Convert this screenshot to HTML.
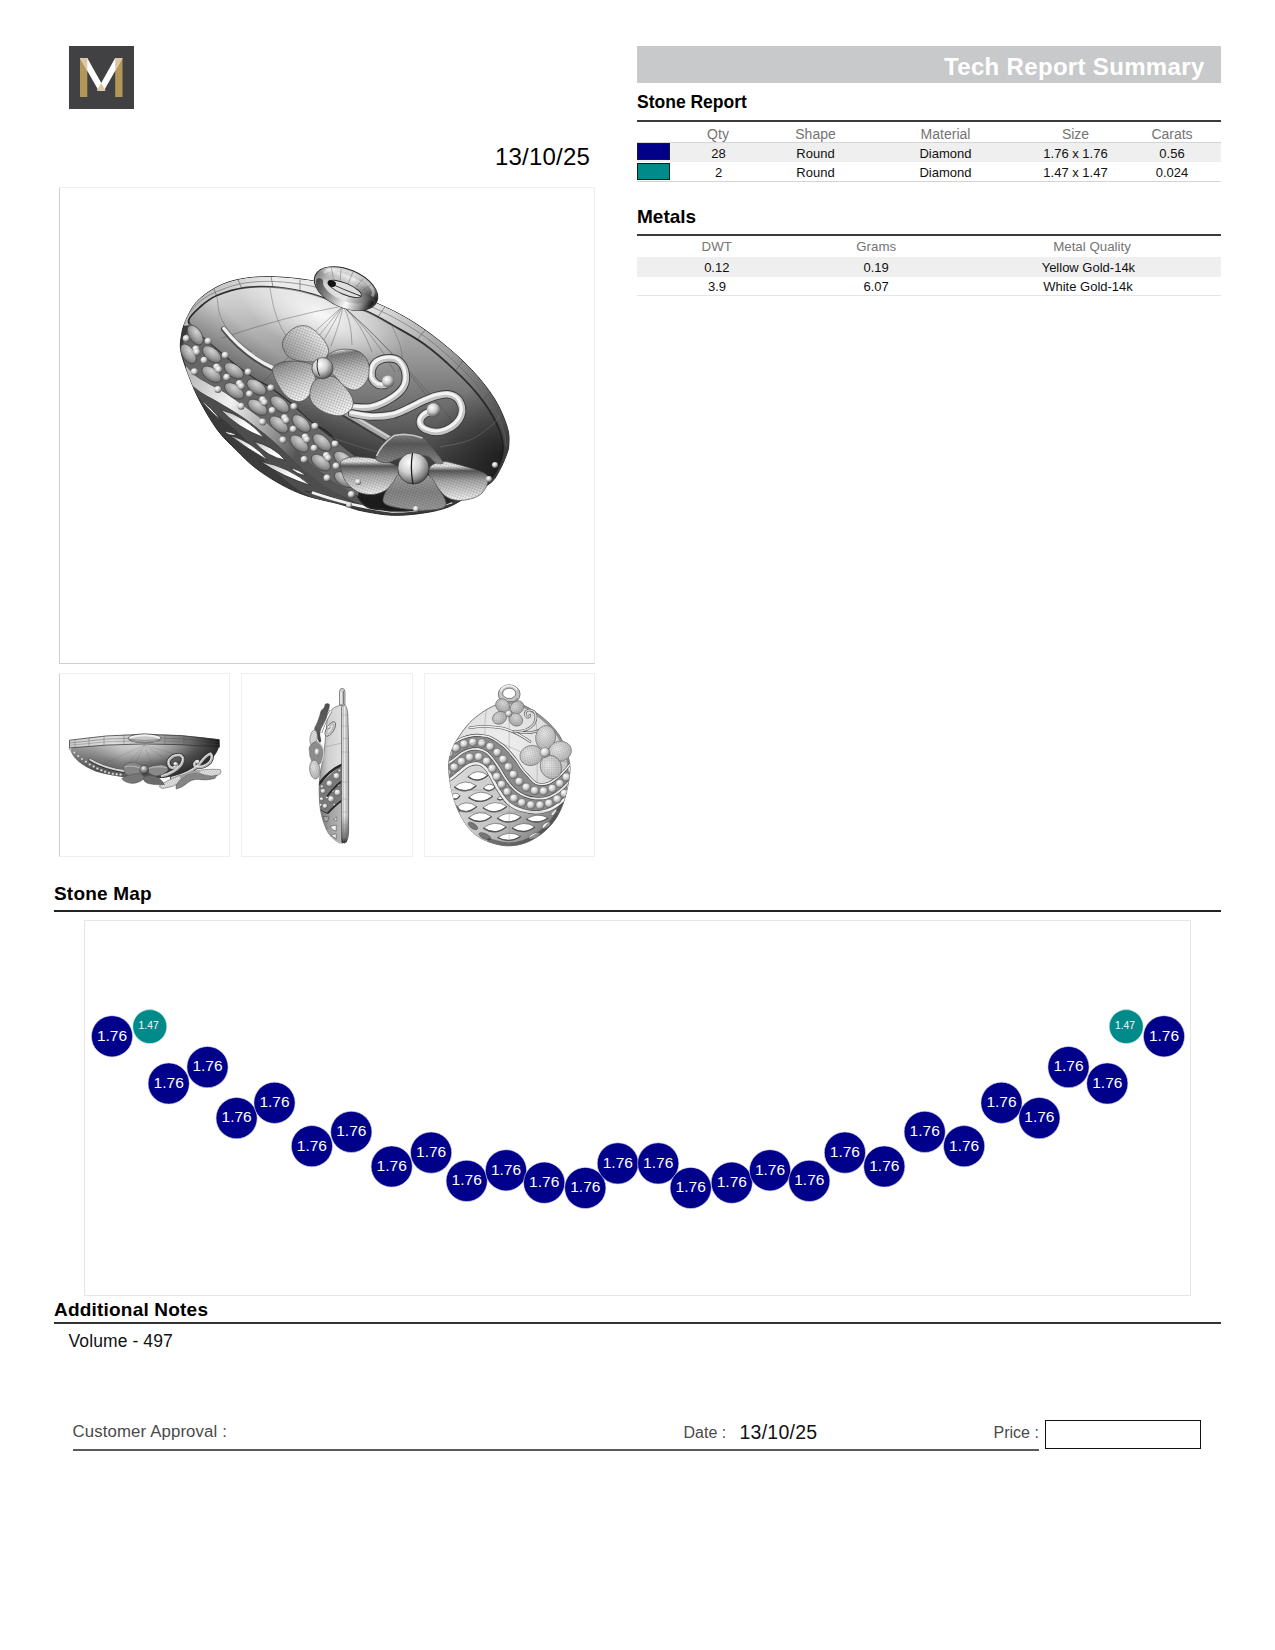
<!DOCTYPE html>
<html lang="en">
<head>
<meta charset="utf-8">
<title>Tech Report Summary</title>
<style>
html,body{margin:0;padding:0;background:#fff;}
body{width:1275px;height:1650px;position:relative;overflow:hidden;font-family:"Liberation Sans",sans-serif;color:#000;}
.abs{position:absolute;}
.t{position:absolute;white-space:nowrap;line-height:1;}
.c{transform:translateX(-50%);}
.b{font-weight:bold;}
.hr{position:absolute;height:2px;background:#3a3a3a;}
.lr{position:absolute;height:1px;background:#d4d4d4;}
#titlebar{left:637px;top:46px;width:584px;height:37px;background:#c8c9ca;}
#title{left:944px;top:54.5px;font-size:24px;font-weight:bold;color:#fff;letter-spacing:.33px;}
.rowbg{position:absolute;left:637px;width:584px;background:#efefef;}
.sw{position:absolute;left:637px;width:31px;height:15px;border:1px solid #1a1a1a;}
.cell{font-size:13px;color:#111;}
.hd{font-size:14px;color:#747474;}
.frame{position:absolute;box-sizing:border-box;border:1px solid #efefef;background:#fff;}
.nv{fill:#00008b;stroke:#d8d8e8;stroke-width:.6;}
.tl{fill:#008b8b;stroke:#d8e8e8;stroke-width:.6;}
.n1{font-family:"Liberation Sans",sans-serif;font-size:15.5px;fill:#fff;text-anchor:middle;}
.n2{font-family:"Liberation Sans",sans-serif;font-size:10.3px;fill:#fff;text-anchor:middle;}
</style>
</head>
<body>
<!-- logo -->
<svg class="abs" id="logo" style="left:69px;top:46px" width="65" height="63" viewBox="0 0 65 63">
<rect width="65" height="63" fill="#414042"/>
<rect x="11" y="12" width="7.3" height="39" fill="#b39759"/>
<rect x="46.2" y="12" width="7.3" height="39" fill="#b39759"/>
<polygon points="11,12 18.3,12 36.5,44.5 29.5,44.5" fill="#fff"/>
<polygon points="53.5,12 46.2,12 28,44.5 35,44.5" fill="#fff"/>
<polygon points="11,12 18.3,12 18.3,25" fill="#d9c7a8"/>
<polygon points="53.5,12 46.2,12 46.2,25" fill="#d9c7a8"/>
<polygon points="32.2,37 36.5,44.5 28,44.5" fill="#d9c7a8"/>
</svg>
<div class="t" id="date1" style="left:495px;top:144.8px;font-size:24px;letter-spacing:.2px;">13/10/25</div>

<div class="abs" id="titlebar"></div>
<div class="t" id="title">Tech Report Summary</div>

<!-- Stone report -->
<div class="t b" id="h-stone" style="left:637px;top:94px;font-size:17.5px;">Stone Report</div>
<div class="hr" style="left:637px;top:120px;width:584px;"></div>
<div class="t hd c" style="left:718px;top:126.5px;">Qty</div>
<div class="t hd c" style="left:815.5px;top:126.5px;">Shape</div>
<div class="t hd c" style="left:945.5px;top:126.5px;">Material</div>
<div class="t hd c" style="left:1075.5px;top:126.5px;">Size</div>
<div class="t hd c" style="left:1172px;top:126.5px;">Carats</div>
<div class="lr" style="left:637px;top:142px;width:584px;"></div>
<div class="rowbg" style="top:143px;height:19px;"></div>
<div class="sw" style="top:143px;background:#00008b;"></div>
<div class="t cell c" style="left:718.5px;top:147px;">28</div>
<div class="t cell c" style="left:815.5px;top:147px;">Round</div>
<div class="t cell c" style="left:945.5px;top:147px;">Diamond</div>
<div class="t cell c" style="left:1075.5px;top:147px;">1.76 x 1.76</div>
<div class="t cell c" style="left:1172px;top:147px;">0.56</div>
<div class="sw" style="top:162.5px;background:#008b8b;"></div>
<div class="t cell c" style="left:718.5px;top:165.5px;">2</div>
<div class="t cell c" style="left:815.5px;top:165.5px;">Round</div>
<div class="t cell c" style="left:945.5px;top:165.5px;">Diamond</div>
<div class="t cell c" style="left:1075.5px;top:165.5px;">1.47 x 1.47</div>
<div class="t cell c" style="left:1172px;top:165.5px;">0.024</div>
<div class="lr" style="left:637px;top:181px;width:584px;"></div>

<!-- Metals -->
<div class="t b" id="h-metals" style="left:637px;top:207.4px;font-size:19px;">Metals</div>
<div class="hr" style="left:637px;top:234px;width:584px;"></div>
<div class="t hd c" style="left:716.7px;top:240px;font-size:13.3px;">DWT</div>
<div class="t hd c" style="left:876.2px;top:240px;font-size:13.3px;">Grams</div>
<div class="t hd c" style="left:1092px;top:240px;font-size:13.3px;">Metal Quality</div>
<div class="rowbg" style="top:257px;height:19.5px;"></div>
<div class="t cell c" style="left:716.8px;top:261px;">0.12</div>
<div class="t cell c" style="left:876.1px;top:261px;">0.19</div>
<div class="t cell c" style="left:1088.4px;top:261px;">Yellow Gold-14k</div>
<div class="t cell c" style="left:717px;top:280px;">3.9</div>
<div class="t cell c" style="left:876.1px;top:280px;">6.07</div>
<div class="t cell c" style="left:1088px;top:280px;">White Gold-14k</div>
<div class="lr" style="left:637px;top:295px;width:584px;background:#e4e4e4;"></div>

<!-- main picture -->
<div class="frame" id="mainframe" style="left:59px;top:187px;width:536px;height:477px;border-left-color:#cfcfcf;border-bottom-color:#cfcfcf;"></div>
<div class="frame" id="th1" style="left:59px;top:673px;width:171px;height:184px;border-left-color:#cfcfcf;"></div>
<div class="frame" id="th2" style="left:241px;top:673px;width:172px;height:184px;"></div>
<div class="frame" id="th3" style="left:424px;top:673px;width:171px;height:184px;"></div>

<svg class="abs" id="mainpic" style="left:60px;top:188px" width="534" height="475" viewBox="60 188 534 475">
<defs>
<linearGradient id="gDome" gradientUnits="userSpaceOnUse" x1="345" y1="268" x2="353" y2="500">
<stop offset="0" stop-color="#e6e6e6"/><stop offset=".15" stop-color="#c8c8c8"/><stop offset=".35" stop-color="#a0a0a0"/><stop offset=".55" stop-color="#787878"/><stop offset=".75" stop-color="#505050"/><stop offset="1" stop-color="#262626"/>
</linearGradient>
<radialGradient id="gDk" gradientUnits="userSpaceOnUse" cx="505" cy="455" r="75">
<stop offset="0" stop-color="#000" stop-opacity=".55"/><stop offset="1" stop-color="#000" stop-opacity="0"/>
</radialGradient>
<linearGradient id="gDk2" gradientUnits="userSpaceOnUse" x1="262" y1="340" x2="236" y2="372">
<stop offset="0" stop-color="#000" stop-opacity="0"/><stop offset="1" stop-color="#000" stop-opacity=".28"/>
</linearGradient>
<radialGradient id="gHi" gradientUnits="userSpaceOnUse" cx="0" cy="0" r="90" gradientTransform="translate(322 316) rotate(24) scale(1 .45)">
<stop offset="0" stop-color="#fff" stop-opacity=".9"/><stop offset="1" stop-color="#fff" stop-opacity="0"/>
</radialGradient>
<linearGradient id="gRim" gradientUnits="userSpaceOnUse" x1="190" y1="300" x2="510" y2="440">
<stop offset="0" stop-color="#b5b5b5"/><stop offset=".2" stop-color="#ededed"/><stop offset=".5" stop-color="#dedede"/><stop offset=".75" stop-color="#9a9a9a"/><stop offset="1" stop-color="#3c3c3c"/>
</linearGradient>
<radialGradient id="gBead" cx=".38" cy=".32" r=".75">
<stop offset="0" stop-color="#fff"/><stop offset=".45" stop-color="#d0d0d0"/><stop offset=".8" stop-color="#7a7a7a"/><stop offset="1" stop-color="#3a3a3a"/>
</radialGradient>
<radialGradient id="gGem" cx=".4" cy=".3" r=".8">
<stop offset="0" stop-color="#d2d2d2"/><stop offset=".55" stop-color="#9c9c9c"/><stop offset="1" stop-color="#5a5a5a"/>
</radialGradient>
<radialGradient id="gPet" cx=".4" cy=".35" r=".8">
<stop offset="0" stop-color="#ececec"/><stop offset=".6" stop-color="#c2c2c2"/><stop offset="1" stop-color="#727272"/>
</radialGradient>
<linearGradient id="gPet2" x1="0" y1="0" x2="0" y2="1">
<stop offset="0" stop-color="#6a6a6a"/><stop offset=".3" stop-color="#b5b5b5"/><stop offset="1" stop-color="#efefef"/>
</linearGradient>
<linearGradient id="gPet3" x1="0" y1="0" x2="0" y2="1">
<stop offset="0" stop-color="#777"/><stop offset=".5" stop-color="#a8a8a8"/><stop offset="1" stop-color="#d8d8d8"/>
</linearGradient>
<linearGradient id="gRing" gradientUnits="userSpaceOnUse" x1="320" y1="270" x2="375" y2="310">
<stop offset="0" stop-color="#c9c9c9"/><stop offset=".35" stop-color="#f4f4f4"/><stop offset=".7" stop-color="#bdbdbd"/><stop offset="1" stop-color="#555"/>
</linearGradient>
<linearGradient id="gF1L" gradientUnits="userSpaceOnUse" x1="285" y1="360" x2="300" y2="402">
<stop offset="0" stop-color="#6e6e6e"/><stop offset=".12" stop-color="#9a9a9a"/><stop offset=".6" stop-color="#d6d6d6"/><stop offset="1" stop-color="#fdfdfd"/>
</linearGradient>
<linearGradient id="gF1B" gradientUnits="userSpaceOnUse" x1="322" y1="378" x2="340" y2="416">
<stop offset="0" stop-color="#aaaaaa"/><stop offset=".5" stop-color="#d8d8d8"/><stop offset="1" stop-color="#fcfcfc"/>
</linearGradient>
<linearGradient id="gF1R" gradientUnits="userSpaceOnUse" x1="345" y1="349" x2="352" y2="390">
<stop offset="0" stop-color="#eeeeee"/><stop offset=".1" stop-color="#7c7c7c"/><stop offset=".5" stop-color="#c2c2c2"/><stop offset="1" stop-color="#f6f6f6"/>
</linearGradient>
<linearGradient id="gF1T" gradientUnits="userSpaceOnUse" x1="290" y1="358" x2="320" y2="330">
<stop offset="0" stop-color="#9e9e9e"/><stop offset=".6" stop-color="#d2d2d2"/><stop offset="1" stop-color="#f9f9f9"/>
</linearGradient>
<linearGradient id="gF2S" x1="0" y1="0" x2="0" y2="1">
<stop offset="0" stop-color="#dddddd"/><stop offset=".12" stop-color="#eaeaea"/><stop offset=".24" stop-color="#565656"/><stop offset=".5" stop-color="#aaaaaa"/><stop offset="1" stop-color="#f7f7f7"/>
</linearGradient>
<linearGradient id="gF2B" x1="0" y1="0" x2="0" y2="1">
<stop offset="0" stop-color="#a2a2a2"/><stop offset=".5" stop-color="#858585"/><stop offset="1" stop-color="#9c9c9c"/>
</linearGradient>
<linearGradient id="gF2T" x1="0" y1="0" x2="0" y2="1">
<stop offset="0" stop-color="#8a8a8a"/><stop offset=".35" stop-color="#5a5a5a"/><stop offset="1" stop-color="#8c8c8c"/>
</linearGradient>
<linearGradient id="gRingA" gradientUnits="userSpaceOnUse" x1="-34" y1="0" x2="34" y2="0">
<stop offset="0" stop-color="#8c8c8c"/><stop offset=".18" stop-color="#d6d6d6"/><stop offset=".55" stop-color="#e6e6e6"/><stop offset=".8" stop-color="#7a7a7a"/><stop offset="1" stop-color="#1e1e1e"/>
</linearGradient>
<linearGradient id="gRingB" gradientUnits="userSpaceOnUse" x1="0" y1="-19" x2="0" y2="19">
<stop offset="0" stop-color="#000" stop-opacity=".25"/><stop offset=".2" stop-color="#fff" stop-opacity=".3"/><stop offset=".45" stop-color="#000" stop-opacity=".15"/><stop offset=".75" stop-color="#fff" stop-opacity="0"/><stop offset="1" stop-color="#000" stop-opacity=".5"/>
</linearGradient>
<linearGradient id="gRingC" gradientUnits="userSpaceOnUse" x1="-30" y1="0" x2="30" y2="0">
<stop offset="0" stop-color="#444"/><stop offset=".3" stop-color="#9a9a9a"/><stop offset=".6" stop-color="#fbfbfb"/><stop offset=".82" stop-color="#999"/><stop offset="1" stop-color="#1a1a1a"/>
</linearGradient>
<linearGradient id="gHole" x1="0" y1="0" x2="1" y2="1">
<stop offset="0" stop-color="#bbb"/><stop offset=".6" stop-color="#fff"/><stop offset="1" stop-color="#fff"/>
</linearGradient>
<linearGradient id="gStrip" gradientUnits="userSpaceOnUse" x1="190" y1="380" x2="300" y2="450">
<stop offset="0" stop-color="#bdbdbd"/><stop offset=".35" stop-color="#f2f2f2"/><stop offset=".8" stop-color="#8a8a8a"/><stop offset="1" stop-color="#555"/>
</linearGradient>
<pattern id="mesh" width="2.7" height="2.7" patternUnits="userSpaceOnUse" patternTransform="rotate(20)">
<path d="M0 0H2.7M0 0V2.7" stroke="#3c3c3c" stroke-width=".55" fill="none"/>
</pattern>
<clipPath id="clipSil"><path d="M185.7 320.6C188.2 315.1 191.5 307.4 196.7 301.8C201.9 296.2 209.7 290.7 217 286.9C224.3 283.1 231.4 280.7 240.6 279C249.8 277.3 260.2 276.4 272 276.7C283.8 277 299 278.4 311.2 280.6C323.4 282.8 334 286.2 345 290C356 293.8 366.4 298.5 377 303.3C387.6 308.1 397.9 312.7 408.4 319C418.9 325.3 429.3 332.6 439.8 341C450.3 349.4 462.1 359.5 471.2 369.2C480.3 378.9 488.7 389.3 494.7 399C500.7 408.7 504.9 419.6 507.3 427.3C509.7 435 509 440.2 508.8 445C508.6 449.8 507.6 451.7 506 456C504.4 460.3 501.9 466.2 499.4 470.6C496.9 475 495.7 478.7 491 482.6C486.3 486.5 478.2 490.1 471.2 494.1C464.2 498.1 457 503.6 449.2 506.7C441.4 509.8 433.5 511.5 424.1 512.9C414.7 514.3 403.1 515.6 392.7 515.3C382.2 514.9 370.2 512.6 361.4 510.8C352.6 509 349.3 506.8 340 504.2C330.7 501.6 315.4 498.8 305.5 495.4C295.6 492 288.8 488.7 280.4 484.1C272 479.5 262.6 473.4 255.3 467.8C248 462.2 242.8 456.6 236.5 450.3C230.2 444 223.7 438.4 217.6 430.2C211.5 422 204.5 409.7 200 401.3C195.5 392.9 193.6 388.2 190.4 380C187.2 371.8 182.5 359.5 181 352C179.5 344.5 180.7 340.2 181.5 335C182.3 329.8 183.2 326.1 185.7 320.6Z"/></clipPath>
</defs>
<path d="M185.7 320.6C188.2 315.1 191.5 307.4 196.7 301.8C201.9 296.2 209.7 290.7 217 286.9C224.3 283.1 231.4 280.7 240.6 279C249.8 277.3 260.2 276.4 272 276.7C283.8 277 299 278.4 311.2 280.6C323.4 282.8 334 286.2 345 290C356 293.8 366.4 298.5 377 303.3C387.6 308.1 397.9 312.7 408.4 319C418.9 325.3 429.3 332.6 439.8 341C450.3 349.4 462.1 359.5 471.2 369.2C480.3 378.9 488.7 389.3 494.7 399C500.7 408.7 504.9 419.6 507.3 427.3C509.7 435 509 440.2 508.8 445C508.6 449.8 507.6 451.7 506 456C504.4 460.3 501.9 466.2 499.4 470.6C496.9 475 495.7 478.7 491 482.6C486.3 486.5 478.2 490.1 471.2 494.1C464.2 498.1 457 503.6 449.2 506.7C441.4 509.8 433.5 511.5 424.1 512.9C414.7 514.3 403.1 515.6 392.7 515.3C382.2 514.9 370.2 512.6 361.4 510.8C352.6 509 349.3 506.8 340 504.2C330.7 501.6 315.4 498.8 305.5 495.4C295.6 492 288.8 488.7 280.4 484.1C272 479.5 262.6 473.4 255.3 467.8C248 462.2 242.8 456.6 236.5 450.3C230.2 444 223.7 438.4 217.6 430.2C211.5 422 204.5 409.7 200 401.3C195.5 392.9 193.6 388.2 190.4 380C187.2 371.8 182.5 359.5 181 352C179.5 344.5 180.7 340.2 181.5 335C182.3 329.8 183.2 326.1 185.7 320.6Z" fill="#3b3b3b" stroke="#2a2a2a" stroke-width="1"/>
<g clip-path="url(#clipSil)">
<path d="M183 325C179.1 322 191 308.2 196.7 301.8C202.4 295.4 209.7 290.7 217 286.9C224.3 283.1 231.4 280.7 240.6 279C249.8 277.3 260.2 276.4 272 276.7C283.8 277 299 278.4 311.2 280.6C323.4 282.8 334 286.2 345 290C356 293.8 366.4 298.5 377 303.3C387.6 308.1 397.9 312.7 408.4 319C418.9 325.3 429.3 332.6 439.8 341C450.3 349.4 462.1 359.5 471.2 369.2C480.3 378.9 488.7 389.3 494.7 399C500.7 408.7 504.8 419.6 507.3 427.3C509.8 435 509.7 439.9 509.5 445C509.3 450.1 508.2 453.8 506 458C503.8 462.2 502 473 496 470C490 467 486 455 470 440C454 425 428.3 398.3 400 380C371.7 361.7 330 340 300 330C270 320 239.5 320.8 220 320C200.5 319.2 186.9 328 183 325Z" fill="url(#gRim)"/>
<path d="M214 289L217 297" stroke="#555" stroke-width=".6"/>
<path d="M238 280L242 289" stroke="#555" stroke-width=".6"/>
<path d="M271 276.5L273 287" stroke="#555" stroke-width=".6"/>
<path d="M300 279L300 291" stroke="#555" stroke-width=".6"/>
<path d="M385 306.5L378 317" stroke="#555" stroke-width=".6"/>
<path d="M425 330L417 340" stroke="#555" stroke-width=".6"/>
<path d="M463 361L455 371" stroke="#555" stroke-width=".6"/>
<path d="M490 392L482 401" stroke="#555" stroke-width=".6"/>
<path d="M505 421L497 428" stroke="#555" stroke-width=".6"/>
<path d="M188 314C190.5 311.5 197.3 303.1 203 299C208.7 294.9 215 292.2 222 289.5C229 286.8 236.2 284.3 245 283C253.8 281.7 264 281 275 281.5C286 282 299.3 283.5 311 286C322.7 288.5 334.8 293 345 296.5C355.2 300 362.7 302.8 372 307C381.3 311.2 391 315.7 401 321.5C411 327.3 421.7 333.9 432 342C442.3 350.1 453.8 360.8 463 370C472.2 379.2 480.6 388.5 487 397.5C493.4 406.5 498.2 415.8 501.5 424C504.8 432.2 505.7 443.2 506.5 447" fill="none" stroke="#666" stroke-width=".6"/>
<path d="M186 366C186.7 364.4 191.4 372.6 195 375.5C198.6 378.4 202.6 380.4 207.6 383.3C212.6 386.2 218.6 388.8 224.9 392.7C231.2 396.6 238.8 402.2 245.3 406.9C251.8 411.6 257.8 416 264.1 421C270.4 426 277.2 431.5 283 436.7C288.8 441.9 293.4 447.1 298.6 452.2C303.8 457.2 308.6 462 314.3 467C320.1 472 325.8 477.2 333.1 482C340.4 486.8 352.7 492 358.2 496C363.7 500 370 506.7 366 506C362 505.3 343.7 497.3 334 492C324.3 486.7 315.3 479.8 308 474C300.7 468.2 295.8 462.5 290 457C284.2 451.5 278.7 446 273 441C267.3 436 261.8 431.5 256 427C250.2 422.5 244.2 418.1 238 414C231.8 409.9 224.8 405.9 219 402.5C213.2 399.1 207.7 396.4 203 393.5C198.3 390.6 193.8 389.6 191 385C188.2 380.4 185.3 367.6 186 366Z" fill="url(#gStrip)"/>
<path d="M191 385C192.5 384.9 198.3 390.6 203 393.5C207.7 396.4 213.2 399.1 219 402.5C224.8 405.9 231.8 409.9 238 414C244.2 418.1 250.2 422.5 256 427C261.8 431.5 267.3 436 273 441C278.7 446 284.2 451.5 290 457C295.8 462.5 300.7 468.2 308 474C315.3 479.8 326.7 487.2 334 492C341.3 496.8 352.7 501.2 352 503C351.3 504.8 337.8 504.5 330 503C322.2 501.5 312.8 498.2 305 494C297.2 489.8 290.2 484 283 478C275.8 472 268.7 464.8 262 458C255.3 451.2 249.3 443.3 243 437C236.7 430.7 230 425.2 224 420C218 414.8 212 410.3 207 406C202 401.7 196.7 397.5 194 394C191.3 390.5 189.5 385.1 191 385Z" fill="#4d4d4d"/>
<path d="M198.8 398.8Q209.7 410.5 221.4 421.4Q212.4 407.8 198.8 398.8Z" fill="url(#gHole)" stroke="#2d2d2d" stroke-width=".8"/>
<path d="M220.2 409.5Q238.9 428.6 264.1 437.7Q246.7 416.5 220.2 409.5Z" fill="url(#gHole)" stroke="#2d2d2d" stroke-width=".8"/>
<path d="M223.9 431Q229.3 437 237 434.5Q230.6 432.4 223.9 431Z" fill="url(#gHole)" stroke="#2d2d2d" stroke-width=".8"/>
<path d="M229.6 435.2Q247.8 449.1 267.8 460.3Q252.7 441.7 229.6 435.2Z" fill="url(#gHole)" stroke="#2d2d2d" stroke-width=".8"/>
<path d="M254 441.5Q266.4 456.4 285.4 460.3Q272.8 445.8 254 441.5Z" fill="url(#gHole)" stroke="#2d2d2d" stroke-width=".8"/>
<path d="M260.3 461.6Q283.7 477.1 310.5 485.4Q288.7 466.6 260.3 461.6Z" fill="url(#gHole)" stroke="#2d2d2d" stroke-width=".8"/>
<path d="M290.4 467.8Q296.5 474.5 305.5 475.4Q299 469.5 290.4 467.8Z" fill="url(#gHole)" stroke="#2d2d2d" stroke-width=".8"/>
<path d="M305.5 491.2Q325.1 497.2 345 502.5Q326.2 493.4 305.5 491.2Z" fill="url(#gHole)" stroke="#2d2d2d" stroke-width=".8"/>
<path d="M312 492.5Q350 506 392 511.5Q425 511.5 452 502" fill="none" stroke="#f2f2f2" stroke-width="2.6"/>
<path d="M188.5 321C188.8 316.6 195.2 311.2 200 307C204.8 302.8 209.4 298.7 217 295.5C224.6 292.3 234.8 288.9 245.3 287.6C255.8 286.3 268.8 286.6 279.8 287.6C290.8 288.7 300.8 291 311.2 293.9C321.6 296.8 333.4 302 342.5 304.9C351.6 307.8 357.6 307.8 366 311.2C374.4 314.6 383 319.8 392.7 325.3C402.4 330.8 413.6 336.5 424.1 344.1C434.6 351.7 446.4 362.2 455.5 370.8C464.6 379.4 472.2 387.3 479 395.9C485.8 404.5 492.2 414 496.3 422.5C500.4 431 503.1 439.8 503.5 447C503.9 454.2 501.4 460.3 499 466C496.6 471.7 494.2 476.5 489 481C483.8 485.5 475.3 489.2 468 493C460.7 496.8 453.8 501.2 445 504C436.2 506.8 425 509 415 510C405 511 394.2 511.7 385 510C375.8 508.3 368.3 511.5 360 500C351.7 488.5 343.1 453.9 335 441C326.9 428.1 318.7 428.8 311.2 422.5C303.7 416.2 296.8 408.8 290 403C283.2 397.2 276.8 392.3 270.4 388C264 383.7 257.9 381.2 251.6 377C245.3 372.8 239 367.8 232.7 362.9C226.4 357.9 219.7 352.3 213.9 347.3C208.2 342.3 202.4 337.5 198.2 333.1C194 328.7 188.2 325.4 188.5 321Z" fill="url(#gDome)" stroke="#2e2e2e" stroke-width="1.8"/>
<path d="M188.5 321C188.8 316.6 195.2 311.2 200 307C204.8 302.8 209.4 298.7 217 295.5C224.6 292.3 234.8 288.9 245.3 287.6C255.8 286.3 268.8 286.6 279.8 287.6C290.8 288.7 300.8 291 311.2 293.9C321.6 296.8 333.4 302 342.5 304.9C351.6 307.8 357.6 307.8 366 311.2C374.4 314.6 383 319.8 392.7 325.3C402.4 330.8 413.6 336.5 424.1 344.1C434.6 351.7 446.4 362.2 455.5 370.8C464.6 379.4 472.2 387.3 479 395.9C485.8 404.5 492.2 414 496.3 422.5C500.4 431 503.1 439.8 503.5 447C503.9 454.2 501.4 460.3 499 466C496.6 471.7 494.2 476.5 489 481C483.8 485.5 475.3 489.2 468 493C460.7 496.8 453.8 501.2 445 504C436.2 506.8 425 509 415 510C405 511 394.2 511.7 385 510C375.8 508.3 368.3 511.5 360 500C351.7 488.5 343.1 453.9 335 441C326.9 428.1 318.7 428.8 311.2 422.5C303.7 416.2 296.8 408.8 290 403C283.2 397.2 276.8 392.3 270.4 388C264 383.7 257.9 381.2 251.6 377C245.3 372.8 239 367.8 232.7 362.9C226.4 357.9 219.7 352.3 213.9 347.3C208.2 342.3 202.4 337.5 198.2 333.1C194 328.7 188.2 325.4 188.5 321Z" fill="url(#gDk)"/>
<path d="M188.5 321C188.8 316.6 195.2 311.2 200 307C204.8 302.8 209.4 298.7 217 295.5C224.6 292.3 234.8 288.9 245.3 287.6C255.8 286.3 268.8 286.6 279.8 287.6C290.8 288.7 300.8 291 311.2 293.9C321.6 296.8 333.4 302 342.5 304.9C351.6 307.8 357.6 307.8 366 311.2C374.4 314.6 383 319.8 392.7 325.3C402.4 330.8 413.6 336.5 424.1 344.1C434.6 351.7 446.4 362.2 455.5 370.8C464.6 379.4 472.2 387.3 479 395.9C485.8 404.5 492.2 414 496.3 422.5C500.4 431 503.1 439.8 503.5 447C503.9 454.2 501.4 460.3 499 466C496.6 471.7 494.2 476.5 489 481C483.8 485.5 475.3 489.2 468 493C460.7 496.8 453.8 501.2 445 504C436.2 506.8 425 509 415 510C405 511 394.2 511.7 385 510C375.8 508.3 368.3 511.5 360 500C351.7 488.5 343.1 453.9 335 441C326.9 428.1 318.7 428.8 311.2 422.5C303.7 416.2 296.8 408.8 290 403C283.2 397.2 276.8 392.3 270.4 388C264 383.7 257.9 381.2 251.6 377C245.3 372.8 239 367.8 232.7 362.9C226.4 357.9 219.7 352.3 213.9 347.3C208.2 342.3 202.4 337.5 198.2 333.1C194 328.7 188.2 325.4 188.5 321Z" fill="url(#gDk2)"/>
<path d="M188.5 321C188.8 316.6 195.2 311.2 200 307C204.8 302.8 209.4 298.7 217 295.5C224.6 292.3 234.8 288.9 245.3 287.6C255.8 286.3 268.8 286.6 279.8 287.6C290.8 288.7 300.8 291 311.2 293.9C321.6 296.8 333.4 302 342.5 304.9C351.6 307.8 357.6 307.8 366 311.2C374.4 314.6 383 319.8 392.7 325.3C402.4 330.8 413.6 336.5 424.1 344.1C434.6 351.7 446.4 362.2 455.5 370.8C464.6 379.4 472.2 387.3 479 395.9C485.8 404.5 492.2 414 496.3 422.5C500.4 431 503.1 439.8 503.5 447C503.9 454.2 501.4 460.3 499 466C496.6 471.7 494.2 476.5 489 481C483.8 485.5 475.3 489.2 468 493C460.7 496.8 453.8 501.2 445 504C436.2 506.8 425 509 415 510C405 511 394.2 511.7 385 510C375.8 508.3 368.3 511.5 360 500C351.7 488.5 343.1 453.9 335 441C326.9 428.1 318.7 428.8 311.2 422.5C303.7 416.2 296.8 408.8 290 403C283.2 397.2 276.8 392.3 270.4 388C264 383.7 257.9 381.2 251.6 377C245.3 372.8 239 367.8 232.7 362.9C226.4 357.9 219.7 352.3 213.9 347.3C208.2 342.3 202.4 337.5 198.2 333.1C194 328.7 188.2 325.4 188.5 321Z" fill="url(#gHi)"/>
<path d="M343 306Q286.5 316 222 338" fill="none" stroke="#444" stroke-width=".5" opacity=".75"/>
<path d="M343 306Q306.5 338.5 262 383" fill="none" stroke="#444" stroke-width=".5" opacity=".75"/>
<path d="M343 306Q325.5 327 300 360" fill="none" stroke="#444" stroke-width=".5" opacity=".75"/>
<path d="M343 306Q334.5 322 318 350" fill="none" stroke="#444" stroke-width=".5" opacity=".75"/>
<path d="M343 306Q341 320 331 346" fill="none" stroke="#444" stroke-width=".5" opacity=".75"/>
<path d="M343 306Q351.5 319.5 352 345" fill="none" stroke="#444" stroke-width=".5" opacity=".75"/>
<path d="M343 306Q361.5 323 372 352" fill="none" stroke="#444" stroke-width=".5" opacity=".75"/>
<path d="M343 306Q373 333 395 372" fill="none" stroke="#444" stroke-width=".5" opacity=".75"/>
<path d="M343 306Q390.5 347 430 400" fill="none" stroke="#444" stroke-width=".5" opacity=".75"/>
<path d="M343 306Q405.5 362 460 430" fill="none" stroke="#444" stroke-width=".5" opacity=".75"/>
<path d="M217 297C217.7 300.5 218 311.2 221 318C224 324.8 229.8 332.3 235 338C240.2 343.7 249.2 349.7 252 352" fill="none" stroke="#444" stroke-width=".5" opacity=".7"/>
<path d="M270 288C270.8 292 272.5 304.3 275 312C277.5 319.7 280.8 328 285 334C289.2 340 297.5 345.7 300 348" fill="none" stroke="#444" stroke-width=".5" opacity=".7"/>
<path d="M392 326C393.3 329.2 398.3 339.3 400 345C401.7 350.7 402.3 355.5 402 360C401.7 364.5 398.7 370 398 372" fill="none" stroke="#555" stroke-width=".5" opacity=".7"/>
<path d="M440 447C445 445.8 461.3 443.7 470 440C478.7 436.3 487 429.2 492 425C497 420.8 498.7 416.7 500 415" fill="none" stroke="#999" stroke-width=".5" opacity=".7"/>
<path d="M330 437C335 438.7 352 444.5 360 447C368 449.5 375 451.2 378 452" fill="none" stroke="#999" stroke-width=".5" opacity=".6"/>
<path d="M190 322L198.2 333.1L213.9 347.3L232.7 362.9L251.6 377L270.4 388L290 403L311.2 422.5L335 441L362 462L358.2 496L333.1 482L314.3 467L298.6 452.2L283 436.7L264.1 421L245.3 406.9L224.9 392.7L207.6 383.3L195 375.5L185.7 366L181 350.4Z" fill="#666"/>
<ellipse transform="translate(195.2 335.1) rotate(57.3)" rx="11" ry="6.3" fill="url(#gGem)" stroke="#3a3a3a" stroke-width=".6"/>
<ellipse transform="translate(188.3 353.9) rotate(57.3)" rx="11" ry="6.3" fill="url(#gGem)" stroke="#3a3a3a" stroke-width=".6"/>
<ellipse transform="translate(211.8 354.4) rotate(40.6)" rx="11" ry="6.3" fill="url(#gGem)" stroke="#3a3a3a" stroke-width=".6"/>
<ellipse transform="translate(211.5 374.3) rotate(35.8)" rx="11" ry="6.3" fill="url(#gGem)" stroke="#3a3a3a" stroke-width=".6"/>
<ellipse transform="translate(233.9 370.8) rotate(35.8)" rx="11" ry="6.3" fill="url(#gGem)" stroke="#3a3a3a" stroke-width=".6"/>
<ellipse transform="translate(234.2 390.9) rotate(36.4)" rx="11" ry="6.3" fill="url(#gGem)" stroke="#3a3a3a" stroke-width=".6"/>
<ellipse transform="translate(256.5 387.2) rotate(34.4)" rx="11" ry="6.3" fill="url(#gGem)" stroke="#3a3a3a" stroke-width=".6"/>
<ellipse transform="translate(257.5 407.3) rotate(34.4)" rx="11" ry="6.3" fill="url(#gGem)" stroke="#3a3a3a" stroke-width=".6"/>
<ellipse transform="translate(279.8 404.5) rotate(40.1)" rx="11" ry="6.3" fill="url(#gGem)" stroke="#3a3a3a" stroke-width=".6"/>
<ellipse transform="translate(278.8 424.6) rotate(40.1)" rx="11" ry="6.3" fill="url(#gGem)" stroke="#3a3a3a" stroke-width=".6"/>
<ellipse transform="translate(301.2 423.6) rotate(43.4)" rx="11" ry="6.3" fill="url(#gGem)" stroke="#3a3a3a" stroke-width=".6"/>
<ellipse transform="translate(299.2 443.7) rotate(41.8)" rx="11" ry="6.3" fill="url(#gGem)" stroke="#3a3a3a" stroke-width=".6"/>
<ellipse transform="translate(321.9 442.5) rotate(41.8)" rx="11" ry="6.3" fill="url(#gGem)" stroke="#3a3a3a" stroke-width=".6"/>
<ellipse transform="translate(320.9 462.6) rotate(37.3)" rx="11" ry="6.3" fill="url(#gGem)" stroke="#3a3a3a" stroke-width=".6"/>
<ellipse transform="translate(343.4 459.6) rotate(37.3)" rx="11" ry="6.3" fill="url(#gGem)" stroke="#3a3a3a" stroke-width=".6"/>
<ellipse transform="translate(344.1 479.6) rotate(32.9)" rx="11" ry="6.3" fill="url(#gGem)" stroke="#3a3a3a" stroke-width=".6"/>
<ellipse transform="translate(366.3 475) rotate(32.9)" rx="11" ry="6.3" fill="url(#gGem)" stroke="#3a3a3a" stroke-width=".6"/>
<circle cx="186.2" cy="338.5" r="3.5" fill="url(#gBead)"/>
<circle cx="173.5" cy="346.7" r="3.5" fill="url(#gBead)"/>
<circle cx="195.9" cy="349.1" r="3.5" fill="url(#gBead)"/>
<circle cx="208.1" cy="341.2" r="3.5" fill="url(#gBead)"/>
<circle cx="196.7" cy="352.1" r="3.5" fill="url(#gBead)"/>
<circle cx="204.1" cy="360.3" r="3.5" fill="url(#gBead)"/>
<circle cx="194.4" cy="371.7" r="3.5" fill="url(#gBead)"/>
<circle cx="216.7" cy="367" r="3.5" fill="url(#gBead)"/>
<circle cx="225.2" cy="355.3" r="3.5" fill="url(#gBead)"/>
<circle cx="218.6" cy="369.6" r="3.5" fill="url(#gBead)"/>
<circle cx="226.7" cy="377.3" r="3.5" fill="url(#gBead)"/>
<circle cx="217.9" cy="389.5" r="3.5" fill="url(#gBead)"/>
<circle cx="239.5" cy="383.6" r="3.5" fill="url(#gBead)"/>
<circle cx="248.1" cy="372" r="3.5" fill="url(#gBead)"/>
<circle cx="241.4" cy="386.2" r="3.5" fill="url(#gBead)"/>
<circle cx="249.5" cy="393.9" r="3.5" fill="url(#gBead)"/>
<circle cx="241" cy="406.3" r="3.5" fill="url(#gBead)"/>
<circle cx="262.6" cy="399.8" r="3.5" fill="url(#gBead)"/>
<circle cx="270.8" cy="387.9" r="3.5" fill="url(#gBead)"/>
<circle cx="264.5" cy="402.4" r="3.5" fill="url(#gBead)"/>
<circle cx="272.2" cy="410.5" r="3.5" fill="url(#gBead)"/>
<circle cx="262.5" cy="422" r="3.5" fill="url(#gBead)"/>
<circle cx="284.6" cy="417.7" r="3.5" fill="url(#gBead)"/>
<circle cx="293.9" cy="406.6" r="3.5" fill="url(#gBead)"/>
<circle cx="286.2" cy="420.4" r="3.5" fill="url(#gBead)"/>
<circle cx="293.2" cy="429.2" r="3.5" fill="url(#gBead)"/>
<circle cx="282.9" cy="440.1" r="3.5" fill="url(#gBead)"/>
<circle cx="305.2" cy="437" r="3.5" fill="url(#gBead)"/>
<circle cx="314.9" cy="426.2" r="3.5" fill="url(#gBead)"/>
<circle cx="306.8" cy="439.7" r="3.5" fill="url(#gBead)"/>
<circle cx="314.1" cy="448.2" r="3.5" fill="url(#gBead)"/>
<circle cx="304.1" cy="459.4" r="3.5" fill="url(#gBead)"/>
<circle cx="326.4" cy="455.4" r="3.5" fill="url(#gBead)"/>
<circle cx="335.1" cy="443.9" r="3.5" fill="url(#gBead)"/>
<circle cx="328.1" cy="458.1" r="3.5" fill="url(#gBead)"/>
<circle cx="336.1" cy="466" r="3.5" fill="url(#gBead)"/>
<circle cx="327" cy="477.9" r="3.5" fill="url(#gBead)"/>
<circle cx="349" cy="472.1" r="3.5" fill="url(#gBead)"/>
<circle cx="356.9" cy="459.9" r="3.5" fill="url(#gBead)"/>
<circle cx="350.9" cy="474.5" r="3.5" fill="url(#gBead)"/>
<circle cx="359.5" cy="481.8" r="3.5" fill="url(#gBead)"/>
<circle cx="351.3" cy="494.4" r="3.5" fill="url(#gBead)"/>
</g>
<path d="M223.6 329.2Q244.5 356 274 369.4" fill="none" stroke="#4a4a4a" stroke-width="5.4" stroke-linecap="round"/>
<path d="M223.9 328.5Q245 355 274 368.4" fill="none" stroke="#f0f0f0" stroke-width="3.4" stroke-linecap="round"/>
<path d="M342 411.5L390 440" fill="none" stroke="#3c3c3c" stroke-width="8"/>
<path d="M342 410.5L390 439" fill="none" stroke="#a9a9a9" stroke-width="5.6"/>
<path d="M342 409L390 437.5" fill="none" stroke="#d2d2d2" stroke-width="1.8"/>
<path d="M353 407C356.2 407 365.4 408.6 372 407C378.6 405.4 387.4 401 392.7 397.5C398 394 401.9 390.2 404 386C406.1 381.8 406.1 376.2 405.3 372C404.5 367.8 401.6 363.3 399 361C396.4 358.7 393.1 358.2 389.6 358.2C386.1 358.2 380.9 359.4 378 361C375.1 362.6 373.4 365.2 372.4 368C371.4 370.8 371.1 375.2 372 378C372.9 380.8 375.8 383.3 378 384.5C380.2 385.7 383.8 384.9 385 385" fill="none" stroke="#3a3a3a" stroke-width="8.4" stroke-linecap="round"/>
<path d="M353 407C356.2 407 365.4 408.6 372 407C378.6 405.4 387.4 401 392.7 397.5C398 394 401.9 390.2 404 386C406.1 381.8 406.1 376.2 405.3 372C404.5 367.8 401.6 363.3 399 361C396.4 358.7 393.1 358.2 389.6 358.2C386.1 358.2 380.9 359.4 378 361C375.1 362.6 373.4 365.2 372.4 368C371.4 370.8 371.1 375.2 372 378C372.9 380.8 375.8 383.3 378 384.5C380.2 385.7 383.8 384.9 385 385" fill="none" stroke="#c4c4c4" stroke-width="6.6" stroke-linecap="round"/>
<path d="M353 407C356.2 407 365.4 408.6 372 407C378.6 405.4 387.4 401 392.7 397.5C398 394 401.9 390.2 404 386C406.1 381.8 406.1 376.2 405.3 372C404.5 367.8 401.6 363.3 399 361C396.4 358.7 393.1 358.2 389.6 358.2C386.1 358.2 380.9 359.4 378 361C375.1 362.6 373.4 365.2 372.4 368C371.4 370.8 371.1 375.2 372 378C372.9 380.8 375.8 383.3 378 384.5C380.2 385.7 383.8 384.9 385 385" fill="none" stroke="#f4f4f4" stroke-width="3" stroke-linecap="round" transform="translate(-.7 -1.1)"/>
<path d="M352 413.5C355.3 414 365.2 416.3 372 416.5C378.8 416.7 386.7 416 392.7 414.7C398.7 413.4 402.8 410.9 408 408.5C413.2 406.1 419.3 402.7 424 400.6C428.7 398.5 432.1 397.1 436 396C439.9 394.9 444.1 394 447.6 394.3C451.1 394.6 454.6 395.9 457 398C459.4 400.1 461.1 403.9 461.8 406.9C462.5 409.9 462.1 413.1 461 416C459.9 418.9 458 421.7 455.5 424C453 426.3 449.1 428.7 446 430C442.9 431.3 439.9 432 436.7 432C433.5 432 429.6 431.1 427 430C424.4 428.9 422.1 427.5 421 425.7C419.9 423.9 419.8 420.9 420.5 419C421.2 417.1 423.2 415.2 425 414C426.8 412.8 430 411.9 431 411.5" fill="none" stroke="#3a3a3a" stroke-width="8.4" stroke-linecap="round"/>
<path d="M352 413.5C355.3 414 365.2 416.3 372 416.5C378.8 416.7 386.7 416 392.7 414.7C398.7 413.4 402.8 410.9 408 408.5C413.2 406.1 419.3 402.7 424 400.6C428.7 398.5 432.1 397.1 436 396C439.9 394.9 444.1 394 447.6 394.3C451.1 394.6 454.6 395.9 457 398C459.4 400.1 461.1 403.9 461.8 406.9C462.5 409.9 462.1 413.1 461 416C459.9 418.9 458 421.7 455.5 424C453 426.3 449.1 428.7 446 430C442.9 431.3 439.9 432 436.7 432C433.5 432 429.6 431.1 427 430C424.4 428.9 422.1 427.5 421 425.7C419.9 423.9 419.8 420.9 420.5 419C421.2 417.1 423.2 415.2 425 414C426.8 412.8 430 411.9 431 411.5" fill="none" stroke="#c4c4c4" stroke-width="6.6" stroke-linecap="round"/>
<path d="M352 413.5C355.3 414 365.2 416.3 372 416.5C378.8 416.7 386.7 416 392.7 414.7C398.7 413.4 402.8 410.9 408 408.5C413.2 406.1 419.3 402.7 424 400.6C428.7 398.5 432.1 397.1 436 396C439.9 394.9 444.1 394 447.6 394.3C451.1 394.6 454.6 395.9 457 398C459.4 400.1 461.1 403.9 461.8 406.9C462.5 409.9 462.1 413.1 461 416C459.9 418.9 458 421.7 455.5 424C453 426.3 449.1 428.7 446 430C442.9 431.3 439.9 432 436.7 432C433.5 432 429.6 431.1 427 430C424.4 428.9 422.1 427.5 421 425.7C419.9 423.9 419.8 420.9 420.5 419C421.2 417.1 423.2 415.2 425 414C426.8 412.8 430 411.9 431 411.5" fill="none" stroke="#f4f4f4" stroke-width="3" stroke-linecap="round" transform="translate(-.7 -1.1)"/>
<circle cx="388" cy="381.5" r="6" fill="url(#gBead)"/>
<circle cx="433.5" cy="410" r="6.8" fill="url(#gBead)"/>
<path d="M272.4 370.2C272.4 366.8 274.9 365.4 277.8 363.9C280.7 362.4 285 361.4 289.6 361.2C294.2 360.9 301.3 361.4 305.3 362.4C309.3 363.4 311.9 363.7 313.5 367.1C315.1 370.5 315.7 378 315 382.7C314.3 387.4 311.7 392.1 309.2 395.3C306.7 398.5 303.4 401.3 299.8 401.6C296.2 401.9 291 399.8 287.3 396.9C283.6 394 280.3 388.8 277.8 384.3C275.3 379.9 272.4 373.6 272.4 370.2Z" fill="url(#gF1L)" stroke="#4a4a4a" stroke-width=".7"/><path d="M272.4 370.2C272.4 366.8 274.9 365.4 277.8 363.9C280.7 362.4 285 361.4 289.6 361.2C294.2 360.9 301.3 361.4 305.3 362.4C309.3 363.4 311.9 363.7 313.5 367.1C315.1 370.5 315.7 378 315 382.7C314.3 387.4 311.7 392.1 309.2 395.3C306.7 398.5 303.4 401.3 299.8 401.6C296.2 401.9 291 399.8 287.3 396.9C283.6 394 280.3 388.8 277.8 384.3C275.3 379.9 272.4 373.6 272.4 370.2Z" fill="url(#mesh)" opacity="0.6"/>
<path d="M316 379.6C319.8 377 327.8 375.2 332.7 376.5C337.6 377.8 342 383.9 345.3 387.5C348.6 391.1 351.3 394.9 352.4 398.4C353.4 401.9 353.6 405.7 351.6 408.6C349.6 411.5 345.1 415.1 340.6 415.7C336.2 416.3 329.6 414.6 324.9 412.5C320.2 410.4 314.9 406.5 312.4 403.1C309.9 399.7 309.4 396.1 310 392.2C310.6 388.3 312.2 382.2 316 379.6Z" fill="url(#gF1B)" stroke="#4a4a4a" stroke-width=".7"/><path d="M316 379.6C319.8 377 327.8 375.2 332.7 376.5C337.6 377.8 342 383.9 345.3 387.5C348.6 391.1 351.3 394.9 352.4 398.4C353.4 401.9 353.6 405.7 351.6 408.6C349.6 411.5 345.1 415.1 340.6 415.7C336.2 416.3 329.6 414.6 324.9 412.5C320.2 410.4 314.9 406.5 312.4 403.1C309.9 399.7 309.4 396.1 310 392.2C310.6 388.3 312.2 382.2 316 379.6Z" fill="url(#mesh)" opacity="0.6"/>
<path d="M327 357C327.3 354.6 327.3 355 329.6 353.7C331.9 352.4 336.2 349.9 340.6 349.4C345.1 348.9 352.1 349.2 356.3 350.6C360.5 352 363.6 354.6 365.7 357.6C367.8 360.6 369.1 364.7 369.2 368.6C369.3 372.5 368.6 377.7 366.5 381.2C364.4 384.7 359.8 388.9 356.3 389.8C352.8 390.7 348.6 388.7 345.3 386.7C342 384.7 339.6 381.1 336.7 378C333.8 374.9 329.6 371.5 328 368C326.4 364.5 326.7 359.4 327 357Z" fill="url(#gF1R)" stroke="#4a4a4a" stroke-width=".7"/><path d="M327 357C327.3 354.6 327.3 355 329.6 353.7C331.9 352.4 336.2 349.9 340.6 349.4C345.1 348.9 352.1 349.2 356.3 350.6C360.5 352 363.6 354.6 365.7 357.6C367.8 360.6 369.1 364.7 369.2 368.6C369.3 372.5 368.6 377.7 366.5 381.2C364.4 384.7 359.8 388.9 356.3 389.8C352.8 390.7 348.6 388.7 345.3 386.7C342 384.7 339.6 381.1 336.7 378C333.8 374.9 329.6 371.5 328 368C326.4 364.5 326.7 359.4 327 357Z" fill="url(#mesh)" opacity="0.6"/>
<path d="M282.5 345.9C281.9 342.2 283.5 338.8 285.7 335.7C287.9 332.6 292.2 328.7 295.9 327.1C299.5 325.5 303.8 325.1 307.6 326.3C311.4 327.5 315.5 331.1 318.6 334.1C321.8 337.1 324.9 341.2 326.5 344.3C328.1 347.4 329.3 350.2 328.4 352.9C327.5 355.6 324.9 359.1 321 360.5C317.1 361.9 310.5 362.1 305.3 361.6C300.1 361.1 293.4 360.2 289.6 357.6C285.8 355 283.1 349.5 282.5 345.9Z" fill="url(#gF1T)" stroke="#4a4a4a" stroke-width=".7"/><path d="M282.5 345.9C281.9 342.2 283.5 338.8 285.7 335.7C287.9 332.6 292.2 328.7 295.9 327.1C299.5 325.5 303.8 325.1 307.6 326.3C311.4 327.5 315.5 331.1 318.6 334.1C321.8 337.1 324.9 341.2 326.5 344.3C328.1 347.4 329.3 350.2 328.4 352.9C327.5 355.6 324.9 359.1 321 360.5C317.1 361.9 310.5 362.1 305.3 361.6C300.1 361.1 293.4 360.2 289.6 357.6C285.8 355 283.1 349.5 282.5 345.9Z" fill="url(#mesh)" opacity="0.6"/>
<circle cx="322.5" cy="368.2" r="10.6" fill="url(#gBead)" stroke="#333" stroke-width=".6"/>
<path d="M318 358.7Q315.5 367 319.5 375.5" fill="none" stroke="#2a2a2a" stroke-width="1"/>
<path d="M341.3 461.4C343.3 458.8 348 457.4 353.8 457C359.6 456.6 369.1 457.3 376.4 458.9C383.7 460.5 393.7 463.7 397.7 466.4C401.7 469.1 401.2 471.8 400.2 475.2C399.2 478.6 395.5 483.4 391.5 486.5C387.5 489.6 381.6 492.9 376.4 494C371.2 495.1 364.9 494.5 360.1 492.8C355.3 491.1 350.5 487.4 347.5 484C344.5 480.6 342.9 476.5 341.9 472.7C340.9 468.9 339.3 464 341.3 461.4Z" fill="url(#gF2S)" stroke="#4a4a4a" stroke-width=".7"/><path d="M341.3 461.4C343.3 458.8 348 457.4 353.8 457C359.6 456.6 369.1 457.3 376.4 458.9C383.7 460.5 393.7 463.7 397.7 466.4C401.7 469.1 401.2 471.8 400.2 475.2C399.2 478.6 395.5 483.4 391.5 486.5C387.5 489.6 381.6 492.9 376.4 494C371.2 495.1 364.9 494.5 360.1 492.8C355.3 491.1 350.5 487.4 347.5 484C344.5 480.6 342.9 476.5 341.9 472.7C340.9 468.9 339.3 464 341.3 461.4Z" fill="url(#mesh)" opacity="0.5"/>
<path d="M430.4 466.4C432.7 464.1 437.9 461.6 442.9 461.4C447.9 461.2 453.4 463.1 460.5 465.2C467.6 467.3 481.1 470.8 485.6 473.9C490.1 477 488.4 480.4 487.4 484C486.3 487.6 483.4 492.6 479.3 495.3C475.2 498 468.2 499.9 463 500.3C457.8 500.7 452.5 500.3 447.9 497.8C443.3 495.3 438.5 489 435.4 485.2C432.3 481.4 429.9 478.3 429.1 475.2C428.3 472.1 428.1 468.7 430.4 466.4Z" fill="url(#gF2S)" stroke="#4a4a4a" stroke-width=".7"/><path d="M430.4 466.4C432.7 464.1 437.9 461.6 442.9 461.4C447.9 461.2 453.4 463.1 460.5 465.2C467.6 467.3 481.1 470.8 485.6 473.9C490.1 477 488.4 480.4 487.4 484C486.3 487.6 483.4 492.6 479.3 495.3C475.2 498 468.2 499.9 463 500.3C457.8 500.7 452.5 500.3 447.9 497.8C443.3 495.3 438.5 489 435.4 485.2C432.3 481.4 429.9 478.3 429.1 475.2C428.3 472.1 428.1 468.7 430.4 466.4Z" fill="url(#mesh)" opacity="0.5"/>
<path d="M400.2 473.9C403.6 473.5 408.2 480 412.8 480.2C417.4 480.4 423.6 473.9 427.8 475.2C432 476.4 435 483.5 437.9 487.7C440.8 491.9 444.6 496.9 445.4 500.3C446.2 503.7 446.7 506.1 442.9 507.8C439.1 509.5 430.3 510.3 422.8 510.3C415.3 510.3 404.2 509.1 397.7 507.8C391.2 506.6 386 505.3 383.9 502.8C381.8 500.3 383.7 496.2 385.2 492.8C386.7 489.4 390.2 485.9 392.7 482.7C395.2 479.5 396.8 474.3 400.2 473.9Z" fill="url(#gF2B)" stroke="#4a4a4a" stroke-width=".7"/><path d="M400.2 473.9C403.6 473.5 408.2 480 412.8 480.2C417.4 480.4 423.6 473.9 427.8 475.2C432 476.4 435 483.5 437.9 487.7C440.8 491.9 444.6 496.9 445.4 500.3C446.2 503.7 446.7 506.1 442.9 507.8C439.1 509.5 430.3 510.3 422.8 510.3C415.3 510.3 404.2 509.1 397.7 507.8C391.2 506.6 386 505.3 383.9 502.8C381.8 500.3 383.7 496.2 385.2 492.8C386.7 489.4 390.2 485.9 392.7 482.7C395.2 479.5 396.8 474.3 400.2 473.9Z" fill="url(#mesh)" opacity="0.55"/>
<path d="M375.8 457.6C376.2 454.9 378.4 448.9 381.4 445.1C384.4 441.3 389.6 437 394 435C398.4 433 403 432.8 407.8 433.2C412.6 433.6 418.4 434.7 422.8 437.5C427.2 440.3 430.8 445.9 434.1 450.1C437.5 454.3 442.7 460.5 442.9 462.6C443.1 464.7 437.9 463.6 435.4 462.6C432.9 461.6 431.6 457.6 427.8 456.4C424 455.1 417.8 454.7 412.8 455.1C407.8 455.5 401.9 457.6 397.7 458.9C393.5 460.1 390.8 462.2 387.7 462.6C384.6 463 380.9 462.2 378.9 461.4C376.9 460.6 375.4 460.3 375.8 457.6Z" fill="url(#gF2T)" stroke="#4a4a4a" stroke-width=".7"/><path d="M375.8 457.6C376.2 454.9 378.4 448.9 381.4 445.1C384.4 441.3 389.6 437 394 435C398.4 433 403 432.8 407.8 433.2C412.6 433.6 418.4 434.7 422.8 437.5C427.2 440.3 430.8 445.9 434.1 450.1C437.5 454.3 442.7 460.5 442.9 462.6C443.1 464.7 437.9 463.6 435.4 462.6C432.9 461.6 431.6 457.6 427.8 456.4C424 455.1 417.8 454.7 412.8 455.1C407.8 455.5 401.9 457.6 397.7 458.9C393.5 460.1 390.8 462.2 387.7 462.6C384.6 463 380.9 462.2 378.9 461.4C376.9 460.6 375.4 460.3 375.8 457.6Z" fill="url(#mesh)" opacity="0.6"/>
<path d="M376.5 456Q381 445 394 435.6Q408 432.5 422.5 438" fill="none" stroke="#d0d0d0" stroke-width="1.6" opacity=".9"/>
<circle cx="413.4" cy="468.3" r="15.7" fill="url(#gBead)" stroke="#2e2e2e" stroke-width=".7"/>
<path d="M412.5 453Q410 468 413 484" fill="none" stroke="#1e1e1e" stroke-width="1.3"/>
<circle cx="495" cy="465" r="3" fill="url(#gBead)"/>
<circle cx="489" cy="479" r="3" fill="url(#gBead)"/>
<circle cx="349" cy="505" r="3" fill="url(#gBead)"/>
<circle cx="416" cy="509" r="3" fill="url(#gBead)"/>
<circle cx="358" cy="482" r="3" fill="url(#gBead)"/>
<g transform="translate(346 288.5) rotate(23)">
<ellipse rx="33.5" ry="19" fill="url(#gRingA)" stroke="#262626" stroke-width="1"/>
<ellipse rx="33.5" ry="19" fill="url(#gRingB)"/>
<path d="M-27 4A27.5 13.5 0 0 0 27.5 4" fill="none" stroke="url(#gRingC)" stroke-width="7" stroke-linecap="round"/>
<path d="M-26 -6A26 12 0 0 1 27 -3" fill="none" stroke="#fff" stroke-width="3" opacity=".4"/>
<ellipse cx="-1" cy=".8" rx="18" ry="5.6" fill="#dedede" stroke="#2e2e2e" stroke-width=".9"/>
<path d="M-18.5 1.5Q0 2 17 1.2" fill="none" stroke="#333" stroke-width=".9"/>
<ellipse cx="-15" cy=".9" rx="4.2" ry="3.2" fill="#111"/>
<path d="M-22 -13.7L-15.8 -5" stroke="#555" stroke-width=".5" opacity=".7"/>
<path d="M-12 -15.9L-8.6 -5" stroke="#555" stroke-width=".5" opacity=".7"/>
<path d="M0 -18.5L0.0 -5" stroke="#555" stroke-width=".5" opacity=".7"/>
<path d="M12 -15.9L8.6 -5" stroke="#555" stroke-width=".5" opacity=".7"/>
<path d="M22 -13.7L15.8 -5" stroke="#555" stroke-width=".5" opacity=".7"/>
</g>
</svg>
<svg class="abs" id="thumbs" style="left:59px;top:673px" width="536" height="184" viewBox="59 673 536 184">
<defs>
<pattern id="mesh2" width="1.8" height="1.8" patternUnits="userSpaceOnUse" patternTransform="rotate(25)">
<path d="M0 0H1.8M0 0V1.8" stroke="#444" stroke-width=".4" fill="none"/>
</pattern>
<linearGradient id="t1band" gradientUnits="userSpaceOnUse" x1="69" y1="0" x2="220" y2="0">
<stop offset="0" stop-color="#cfcfcf"/><stop offset=".3" stop-color="#dcdcdc"/><stop offset=".55" stop-color="#b4b4b4"/><stop offset=".8" stop-color="#6a6a6a"/><stop offset="1" stop-color="#141414"/>
</linearGradient>
<linearGradient id="t1bowlv" gradientUnits="userSpaceOnUse" x1="0" y1="745" x2="0" y2="785">
<stop offset="0" stop-color="#aeaeae"/><stop offset=".3" stop-color="#828282"/><stop offset=".65" stop-color="#484848"/><stop offset="1" stop-color="#323232"/>
</linearGradient>
<linearGradient id="t1bowlh" gradientUnits="userSpaceOnUse" x1="69" y1="0" x2="220" y2="0">
<stop offset="0" stop-color="#000" stop-opacity=".1"/><stop offset=".35" stop-color="#fff" stop-opacity=".15"/><stop offset=".7" stop-color="#000" stop-opacity=".25"/><stop offset="1" stop-color="#000" stop-opacity=".75"/>
</linearGradient>
<linearGradient id="t2plate" gradientUnits="userSpaceOnUse" x1="341.5" y1="0" x2="349" y2="0">
<stop offset="0" stop-color="#c8c8c8"/><stop offset=".4" stop-color="#ececec"/><stop offset=".8" stop-color="#bdbdbd"/><stop offset="1" stop-color="#555"/>
</linearGradient>
<linearGradient id="t2dome" gradientUnits="userSpaceOnUse" x1="318" y1="0" x2="343" y2="0">
<stop offset="0" stop-color="#8e8e8e"/><stop offset=".4" stop-color="#cfcfcf"/><stop offset="1" stop-color="#e2e2e2"/>
</linearGradient>
<radialGradient id="t3egg" gradientUnits="userSpaceOnUse" cx="500" cy="750" r="85">
<stop offset="0" stop-color="#f1f1f1"/><stop offset=".6" stop-color="#dedede"/><stop offset="1" stop-color="#b0b0b0"/>
</radialGradient>
<linearGradient id="t2lat" gradientUnits="userSpaceOnUse" x1="319" y1="0" x2="342" y2="0">
<stop offset="0" stop-color="#6e6e6e"/><stop offset=".5" stop-color="#a2a2a2"/><stop offset="1" stop-color="#b8b8b8"/>
</linearGradient>
<linearGradient id="t2pb" gradientUnits="userSpaceOnUse" x1="0" y1="815" x2="0" y2="843">
<stop offset="0" stop-color="#000" stop-opacity="0"/><stop offset=".8" stop-color="#000" stop-opacity=".5"/><stop offset="1" stop-color="#000" stop-opacity=".85"/>
</linearGradient>
<linearGradient id="t2dk" gradientUnits="userSpaceOnUse" x1="0" y1="704" x2="0" y2="742">
<stop offset="0" stop-color="#4e4e4e"/><stop offset=".6" stop-color="#626262"/><stop offset="1" stop-color="#3e3e3e"/>
</linearGradient>
<radialGradient id="tBeadD" cx=".4" cy=".3" r=".75">
<stop offset="0" stop-color="#f2f2f2"/><stop offset=".4" stop-color="#9a9a9a"/><stop offset="1" stop-color="#2e2e2e"/>
</radialGradient>
<radialGradient id="t1hi" gradientUnits="userSpaceOnUse" cx="0" cy="0" r="40" gradientTransform="translate(144 746) scale(1.3 .45)">
<stop offset="0" stop-color="#fff" stop-opacity=".45"/><stop offset="1" stop-color="#fff" stop-opacity="0"/>
</radialGradient>
<radialGradient id="tBead" cx=".38" cy=".32" r=".75">
<stop offset="0" stop-color="#fff"/><stop offset=".5" stop-color="#cfcfcf"/><stop offset="1" stop-color="#666"/>
</radialGradient>
<radialGradient id="tPetD" cx=".4" cy=".35" r=".8">
<stop offset="0" stop-color="#a5a5a5"/><stop offset="1" stop-color="#5c5c5c"/>
</radialGradient>
<radialGradient id="tPetL" cx=".4" cy=".35" r=".8">
<stop offset="0" stop-color="#f2f2f2"/><stop offset="1" stop-color="#b2b2b2"/>
</radialGradient>
<radialGradient id="tPetM" cx=".4" cy=".35" r=".8">
<stop offset="0" stop-color="#e2e2e2"/><stop offset="1" stop-color="#a4a4a4"/>
</radialGradient>
<linearGradient id="t3lat" gradientUnits="userSpaceOnUse" x1="455" y1="770" x2="550" y2="845">
<stop offset="0" stop-color="#d9d9d9"/><stop offset=".55" stop-color="#c4c4c4"/><stop offset=".85" stop-color="#8a8a8a"/><stop offset="1" stop-color="#555"/>
</linearGradient>
<clipPath id="t3clip"><path d="M509.2 701.6C514.3 701.4 518.9 703.4 523.5 705.3C528.1 707.2 532.2 709.8 536.6 712.9C541 716 545.9 720 549.8 723.9C553.6 727.8 557 731.6 559.7 736C562.4 740.4 564.3 745.3 566 750C567.7 754.7 569.2 760 569.8 764.4C570.4 768.8 570 771.8 569.4 776.5C568.8 781.2 567.7 787.4 566.3 792.9C564.9 798.4 563.2 804.3 560.8 809.4C558.4 814.5 555.7 819.3 552 823.7C548.3 828.1 543.5 832.5 538.8 835.8C534 839.1 529 841.8 523.5 843.5C518 845.2 511.9 846.2 505.9 845.8C499.8 845.4 492.7 843.5 487.2 841.3C481.7 839.1 477.1 836.4 472.9 832.5C468.7 828.6 465.1 823.5 462 818.2C458.9 812.9 456.3 806.6 454.3 800.6C452.3 794.6 450.9 788.2 450 782C449.1 775.8 448.2 769.1 448.6 763.5C449 757.9 450.9 752.5 452.6 748.1C454.3 743.7 456.2 741 458.7 737.1C461.2 733.2 464.2 728.7 467.5 725C470.8 721.3 474.2 718.2 478.4 715.1C482.6 712 487.6 708.6 492.7 706.4C497.8 704.1 504.1 701.8 509.2 701.6Z"/></clipPath>
<clipPath id="t2clip"><path d="M340.5 705.2C339.3 705.7 335.6 706.3 333.5 708.1C331.4 709.9 329.3 711.4 328 715.8C326.7 720.2 326.4 729.6 325.8 734.5C325.2 739.4 325.1 741.8 324.7 745.4C324.3 749 324.2 752.3 323.6 756.4C323 760.5 321.5 765.2 320.8 770C320.1 774.8 319.4 779.4 319.2 785C319 790.6 319.3 798.6 319.7 803.5C320.1 808.4 320.6 810.9 321.4 814.5C322.2 818.1 323.4 822.1 324.7 825.4C326 828.7 327.5 831.8 329.1 834.2C330.8 836.6 332.8 838.2 334.6 839.7C336.4 841.2 339.1 842.5 340 843L343 843L343 705.2Z"/></clipPath>
</defs>
<path d="M69.7 746C70 756 79 764.5 95.8 771.5C112 776.5 135 779 150 779C172 778 192 772 203.8 765.7C212 760 217.5 753 219.2 746L219.2 743Q144 736 69.7 743Z" fill="url(#t1bowlv)"/>
<path d="M69.7 746C70 756 79 764.5 95.8 771.5C112 776.5 135 779 150 779C172 778 192 772 203.8 765.7C212 760 217.5 753 219.2 746L219.2 743Q144 736 69.7 743Z" fill="url(#t1bowlh)"/>
<path d="M69.7 746C70 756 79 764.5 95.8 771.5C112 776.5 135 779 150 779C172 778 192 772 203.8 765.7C212 760 217.5 753 219.2 746L219.2 743Q144 736 69.7 743Z" fill="url(#t1hi)"/>
<path d="M144.3 745L95 768" stroke="#555" stroke-width=".3" opacity=".6"/>
<path d="M144.3 745L118 775" stroke="#555" stroke-width=".3" opacity=".6"/>
<path d="M144.3 745L135 765" stroke="#555" stroke-width=".3" opacity=".6"/>
<path d="M144.3 745L152 765" stroke="#555" stroke-width=".3" opacity=".6"/>
<path d="M144.3 745L170 762" stroke="#555" stroke-width=".3" opacity=".6"/>
<path d="M144.3 745L195 760" stroke="#555" stroke-width=".3" opacity=".6"/>
<circle cx="70.5" cy="749" r="1.25" fill="#e2e2e2" stroke="#555" stroke-width=".35"/>
<circle cx="74.3" cy="752.6" r="1.25" fill="#e2e2e2" stroke="#555" stroke-width=".35"/>
<circle cx="78.2" cy="755.9" r="1.25" fill="#e2e2e2" stroke="#555" stroke-width=".35"/>
<circle cx="82" cy="759" r="1.25" fill="#e2e2e2" stroke="#555" stroke-width=".35"/>
<circle cx="85.9" cy="761.8" r="1.25" fill="#e2e2e2" stroke="#555" stroke-width=".35"/>
<circle cx="89.7" cy="764.4" r="1.25" fill="#e2e2e2" stroke="#555" stroke-width=".35"/>
<circle cx="93.6" cy="766.6" r="1.25" fill="#e2e2e2" stroke="#555" stroke-width=".35"/>
<circle cx="97.4" cy="768.6" r="1.25" fill="#e2e2e2" stroke="#555" stroke-width=".35"/>
<circle cx="101.3" cy="770.3" r="1.25" fill="#e2e2e2" stroke="#555" stroke-width=".35"/>
<circle cx="105.1" cy="771.8" r="1.25" fill="#e2e2e2" stroke="#555" stroke-width=".35"/>
<circle cx="109" cy="772.9" r="1.25" fill="#e2e2e2" stroke="#555" stroke-width=".35"/>
<circle cx="112.8" cy="773.8" r="1.25" fill="#e2e2e2" stroke="#555" stroke-width=".35"/>
<circle cx="116.7" cy="774.3" r="1.25" fill="#e2e2e2" stroke="#555" stroke-width=".35"/>
<circle cx="120.5" cy="774.5" r="1.25" fill="#e2e2e2" stroke="#555" stroke-width=".35"/>
<path d="M69.5 740.2Q144 728.8 219.3 739.6L219.4 747.2Q144 740.4 69.5 747.9Z" fill="url(#t1band)" stroke="#2e2e2e" stroke-width=".7"/>
<path d="M69.6 743Q144 732.6 219.2 742.5" fill="none" stroke="#4a4a4a" stroke-width=".4"/>
<path d="M69.6 745.3Q144 736 219.2 744.8" fill="none" stroke="#5a5a5a" stroke-width=".35"/>
<path d="M75 739.4V747.4" stroke="#4a4a4a" stroke-width=".35"/>
<path d="M89 737.6V746.2" stroke="#4a4a4a" stroke-width=".35"/>
<path d="M104 736.1V745.2" stroke="#4a4a4a" stroke-width=".35"/>
<path d="M124 734.8V744.3" stroke="#4a4a4a" stroke-width=".35"/>
<path d="M165 734.7V744.1" stroke="#4a4a4a" stroke-width=".35"/>
<path d="M184 735.7V744.8" stroke="#4a4a4a" stroke-width=".35"/>
<path d="M203 737.5V745.9" stroke="#4a4a4a" stroke-width=".35"/>
<path d="M214 738.9V746.7" stroke="#4a4a4a" stroke-width=".35"/>
<ellipse cx="144.7" cy="738.3" rx="16.5" ry="4.4" fill="#c6c6c6" stroke="#333" stroke-width=".7"/>
<path d="M129.5 737.6Q144.7 733.2 160 737.6" fill="none" stroke="#f2f2f2" stroke-width="1.7"/>
<path d="M129.5 739.4Q144.7 741.6 160 739.4" fill="none" stroke="#555" stroke-width=".5"/>
<path d="M131 740.6Q144.7 743.6 158.5 740.6" fill="none" stroke="#8a8a8a" stroke-width="1.1"/>
<path d="M90.3 760.2Q104 768.5 123.7 771.6" fill="none" stroke="#3c3c3c" stroke-width="3.4" stroke-linecap="round"/>
<path d="M90.3 759.8Q104 768 123.7 771" fill="none" stroke="#d9d9d9" stroke-width="1.9" stroke-linecap="round"/>
<path d="M162 776Q174 773 181 765Q185.5 757.5 180 755.2Q172.5 754.5 168.8 760.5Q167.5 766.5 172.5 768Q176.5 767.5 177 764" fill="none" stroke="#2e2e2e" stroke-width="4" stroke-linecap="round"/>
<path d="M162 776Q174 773 181 765Q185.5 757.5 180 755.2Q172.5 754.5 168.8 760.5Q167.5 766.5 172.5 768Q176.5 767.5 177 764" fill="none" stroke="#b4b4b4" stroke-width="2.7" stroke-linecap="round"/>
<path d="M162 776Q174 773 181 765Q185.5 757.5 180 755.2Q172.5 754.5 168.8 760.5Q167.5 766.5 172.5 768Q176.5 767.5 177 764" fill="none" stroke="#e4e4e4" stroke-width="1" stroke-linecap="round" transform="translate(-.3 -.5)"/>
<path d="M172 778Q190 774 199 764.5Q206 755 210.5 753.8Q213.5 756.5 210 762Q204 768 196 767Q192.5 764.5 196 761.5" fill="none" stroke="#2e2e2e" stroke-width="4" stroke-linecap="round"/>
<path d="M172 778Q190 774 199 764.5Q206 755 210.5 753.8Q213.5 756.5 210 762Q204 768 196 767Q192.5 764.5 196 761.5" fill="none" stroke="#b4b4b4" stroke-width="2.7" stroke-linecap="round"/>
<path d="M172 778Q190 774 199 764.5Q206 755 210.5 753.8Q213.5 756.5 210 762Q204 768 196 767Q192.5 764.5 196 761.5" fill="none" stroke="#e4e4e4" stroke-width="1" stroke-linecap="round" transform="translate(-.3 -.5)"/>
<circle cx="175.5" cy="764" r="2.1" fill="url(#tBead)"/><circle cx="197.5" cy="761.8" r="2.1" fill="url(#tBead)"/>
<path d="M191 772Q203 768.5 220.2 769.5Q222.5 772 219.5 774.5Q209 779.5 197.5 778.3Q192 776 191 772Z" fill="#f0f0f0" stroke="#555" stroke-width=".5"/><path d="M191 772Q203 768.5 220.2 769.5Q222.5 772 219.5 774.5Q209 779.5 197.5 778.3Q192 776 191 772Z" fill="url(#mesh2)" opacity=".75"/>
<path d="M159.3 786Q165.5 781 178.4 775.8Q184 774.5 186 774.6Q185 779 183.4 780.9Q173 787.5 163.1 788.5Q159.5 788 159.3 786Z" fill="#f0f0f0" stroke="#555" stroke-width=".5"/><path d="M159.3 786Q165.5 781 178.4 775.8Q184 774.5 186 774.6Q185 779 183.4 780.9Q173 787.5 163.1 788.5Q159.5 788 159.3 786Z" fill="url(#mesh2)" opacity=".75"/>
<path d="M176 785Q182 776 190 773.5Q198 772 205 775Q212 777 217 775L215 778.5Q206 781 199 779.5Q192 779 187.5 783Q182 788 176 789Z" fill="#858585" stroke="#4a4a4a" stroke-width=".4"/>
<path d="M180 777.5Q190 770.5 200 772.5" fill="none" stroke="#9c9c9c" stroke-width="2.2"/>
<path d="M123.7 766Q128 761.5 135 762Q143 765 145.3 770L141 776Q131 777.5 125.5 774Q122.5 770 123.7 766Z" fill="#8a8a8a" stroke="#444" stroke-width=".4"/><path d="M123.7 766Q128 761.5 135 762Q143 765 145.3 770L141 776Q131 777.5 125.5 774Q122.5 770 123.7 766Z" fill="url(#mesh2)" opacity=".35"/>
<path d="M146.6 769Q153 765 162 764.5Q168 766 168.2 770Q165 775 156 776Q149 775 146.6 769Z" fill="#8e8e8e" stroke="#444" stroke-width=".4"/><path d="M146.6 769Q153 765 162 764.5Q168 766 168.2 770Q165 775 156 776Q149 775 146.6 769Z" fill="url(#mesh2)" opacity=".35"/>
<path d="M121.8 778.5Q128 774 140 773.5L145 777Q141 783 132 783.5Q124 782.5 121.8 778.5Z" fill="#7a7a7a" stroke="#444" stroke-width=".4"/><path d="M121.8 778.5Q128 774 140 773.5L145 777Q141 783 132 783.5Q124 782.5 121.8 778.5Z" fill="url(#mesh2)" opacity=".35"/>
<path d="M142.8 778Q148 773.5 156 776.5Q163 780.5 164.4 784.5Q156 785.5 148 783.5Q143.5 781.5 142.8 778Z" fill="#6e6e6e" stroke="#444" stroke-width=".4"/><path d="M142.8 778Q148 773.5 156 776.5Q163 780.5 164.4 784.5Q156 785.5 148 783.5Q143.5 781.5 142.8 778Z" fill="url(#mesh2)" opacity=".35"/>
<path d="M124.5 767Q133 764 144 770" fill="none" stroke="#c2c2c2" stroke-width="1.2" opacity=".8"/>
<path d="M148 768.5Q156 765.5 167 767.5" fill="none" stroke="#c2c2c2" stroke-width="1.2" opacity=".8"/>
<circle cx="144.2" cy="769.8" r="4.4" fill="url(#tBeadD)" stroke="#2e2e2e" stroke-width=".5"/>
<path d="M340.5 705.2C339.3 705.7 335.6 706.3 333.5 708.1C331.4 709.9 329.3 711.4 328 715.8C326.7 720.2 326.4 729.6 325.8 734.5C325.2 739.4 325.1 741.8 324.7 745.4C324.3 749 324.2 752.3 323.6 756.4C323 760.5 321.5 765.2 320.8 770C320.1 774.8 319.4 779.4 319.2 785C319 790.6 319.3 798.6 319.7 803.5C320.1 808.4 320.6 810.9 321.4 814.5C322.2 818.1 323.4 822.1 324.7 825.4C326 828.7 327.5 831.8 329.1 834.2C330.8 836.6 332.8 838.2 334.6 839.7C336.4 841.2 339.1 842.5 340 843L343 843L343 705.2Z" fill="url(#t2dome)" stroke="#555" stroke-width=".6"/>
<g clip-path="url(#t2clip)">
<path d="M318 806L343 798L343 846L318 846Z" fill="url(#t2lat)"/>
<path d="M323 816.5L329 817L327.5 821.5L324.5 821Z" fill="#aaa" stroke="#3c3c3c" stroke-width=".5"/>
<path d="M333.5 819.5L336.8 817L336.8 820.8Z" fill="#f4f4f4" stroke="#3c3c3c" stroke-width=".5"/>
<path d="M330 826.5L336.2 825L336.2 831L333 830Z" fill="#f4f4f4" stroke="#3c3c3c" stroke-width=".5"/>
<path d="M330.8 835L336.2 833.8L336.2 838.8Z" fill="#f4f4f4" stroke="#3c3c3c" stroke-width=".5"/>
<path d="M324 826L326.5 827.5L326 830Z" fill="#ddd" stroke="#3c3c3c" stroke-width=".5"/>
<path d="M318.5 784.8L342 764.6L342 800.4L328 813.6L320.6 809.6L318.5 796Z" fill="#7a7a7a"/>
<circle cx="336.5" cy="776" r="3.3" fill="url(#tBead)" stroke="#4a4a4a" stroke-width=".35"/>
<circle cx="329.5" cy="783.5" r="3.2" fill="url(#tBead)" stroke="#4a4a4a" stroke-width=".35"/>
<circle cx="323" cy="791" r="2.6" fill="url(#tBead)" stroke="#4a4a4a" stroke-width=".35"/>
<circle cx="337.5" cy="792.5" r="3.3" fill="url(#tBead)" stroke="#4a4a4a" stroke-width=".35"/>
<circle cx="331" cy="799" r="3.2" fill="url(#tBead)" stroke="#4a4a4a" stroke-width=".35"/>
<circle cx="325" cy="806" r="2.6" fill="url(#tBead)" stroke="#4a4a4a" stroke-width=".35"/>
<circle cx="321.5" cy="799" r="2" fill="url(#tBead)" stroke="#4a4a4a" stroke-width=".35"/>
<circle cx="338.5" cy="785" r="1.6" fill="url(#tBead)" stroke="#4a4a4a" stroke-width=".35"/>
<circle cx="333" cy="791" r="1.4" fill="url(#tBead)" stroke="#4a4a4a" stroke-width=".35"/>
<circle cx="327" cy="797.5" r="1.4" fill="url(#tBead)" stroke="#4a4a4a" stroke-width=".35"/>
<circle cx="339.5" cy="770.5" r="1.5" fill="url(#tBead)" stroke="#4a4a4a" stroke-width=".35"/>
<circle cx="322" cy="786.5" r="1.6" fill="url(#tBead)" stroke="#4a4a4a" stroke-width=".35"/>
<circle cx="334.5" cy="805" r="1.5" fill="url(#tBead)" stroke="#4a4a4a" stroke-width=".35"/>
<circle cx="320.5" cy="805" r="1.6" fill="url(#tBead)" stroke="#4a4a4a" stroke-width=".35"/>
<path d="M318.5 784.8Q328 771 342 764.6" fill="none" stroke="#262626" stroke-width="2.4"/>
<path d="M327 796.5Q334 787 342 781" fill="none" stroke="#262626" stroke-width="1.6"/>
<path d="M327.5 813.5Q335 805 342 800.4" fill="none" stroke="#262626" stroke-width="1.8"/>
<path d="M320.6 809.6Q324 812.5 328 813.6" fill="none" stroke="#333" stroke-width="1"/>
<path d="M324 747Q333 745.5 343 742.5M320 789H326" fill="none" stroke="#888" stroke-width=".4"/>
</g>
<path d="M341.5 708Q341.6 704.8 344 704.8Q347 705.5 347.8 714Q348.7 740 348.7 775L348.6 833Q348 842 344.5 843.2Q341.8 843 341.5 840Z" fill="url(#t2plate)" stroke="#4a4a4a" stroke-width=".6"/>
<path d="M341.6 815V842.6Q344 843.6 346.5 842Q348.4 838 348.6 815Z" fill="url(#t2pb)"/>
<path d="M343.6 706V843M346 706V843" stroke="#8a8a8a" stroke-width=".35"/>
<path d="M341.6 715H348.6" stroke="#8a8a8a" stroke-width=".35"/>
<path d="M341.6 726H348.6" stroke="#8a8a8a" stroke-width=".35"/>
<path d="M341.6 738.5H348.6" stroke="#8a8a8a" stroke-width=".35"/>
<path d="M341.6 752H348.6" stroke="#8a8a8a" stroke-width=".35"/>
<path d="M341.6 782H348.6" stroke="#8a8a8a" stroke-width=".35"/>
<path d="M341.6 799H348.6" stroke="#8a8a8a" stroke-width=".35"/>
<path d="M341.6 812H348.6" stroke="#8a8a8a" stroke-width=".35"/>
<path d="M341.6 825H348.6" stroke="#8a8a8a" stroke-width=".35"/>
<path d="M339.5 705V692Q339.7 688.3 342.2 688.3Q344.8 688.3 345 692V705Z" fill="#cfcfcf" stroke="#4a4a4a" stroke-width=".6"/>
<path d="M341 704V691.5" stroke="#f6f6f6" stroke-width="1"/>
<path d="M343.4 704V691" stroke="#777" stroke-width="1.1"/>
<path d="M331 710.8Q325 720 320.8 732.5" fill="none" stroke="#666" stroke-width="3"/>
<path d="M331 710.8Q325 720 320.8 732.5" fill="none" stroke="#f4f4f4" stroke-width="1.9"/>
<g transform="translate(330.3 729) rotate(32)"><ellipse rx="3.6" ry="8.2" fill="#dcdcdc" stroke="#5a5a5a" stroke-width=".8"/><ellipse rx="2" ry="6" fill="none" stroke="#777" stroke-width=".5"/></g>
<circle cx="328.8" cy="727.2" r="1.5" fill="url(#tBead)"/>
<path d="M325.5 704C326.4 703.4 328.7 703.5 329.3 704.3C329.9 705 329.3 707 329 708.5C328.7 710 328 711.2 327.5 713C327 714.8 326.8 717 326 719C325.2 721 323.9 723.2 323 725C322.1 726.8 321 727.8 320.5 729.5C320 731.2 319.9 733.1 320 735C320.1 736.9 321.2 739.8 321 741C320.8 742.2 319.7 743 319 742C318.3 741 317.6 737.2 316.8 735C316.1 732.8 314.5 731 314.5 729C314.5 727 316.2 725.2 317 723C317.8 720.8 318.8 718 319.5 716C320.2 714 320.2 712.4 321 711C321.8 709.6 323.2 709 324 707.8C324.8 706.6 324.6 704.6 325.5 704Z" fill="url(#t2dk)" stroke="#444" stroke-width=".3"/>
<g transform="translate(313.6 738) rotate(8)"><ellipse rx="3.6" ry="8" fill="#ececec" stroke="#555" stroke-width=".5"/><ellipse rx="3.6" ry="8" fill="url(#mesh2)" opacity="0.7"/></g>
<path d="M309 748Q311 742.5 316.5 741Q321.5 743.5 323.5 750Q324.5 757 321.5 762Q318 767 313 765.5Q311.5 760 309.8 756Z" fill="#8c8c8c" stroke="#555" stroke-width=".4"/>
<path d="M316.5 741Q321.5 743.5 323.5 750Q324.5 757 321.5 762" fill="none" stroke="#c9c9c9" stroke-width="1.2"/>
<g transform="translate(314.8 769.5) rotate(-6)"><ellipse rx="5.2" ry="9.5" fill="url(#tPetL)" stroke="#555" stroke-width=".5"/><ellipse rx="5.2" ry="9.5" fill="url(#mesh2)" opacity="0.6"/></g>
<ellipse cx="317" cy="752.2" rx="2.3" ry="3.6" fill="url(#tBead)"/>
<path d="M498.3 694.2A10.9 9.4 0 1 0 520.1 694.2A10.9 9.4 0 1 0 498.3 694.2ZM502.7 693.4A6.5 5.2 0 1 0 515.7 693.4A6.5 5.2 0 1 0 502.7 693.4Z" fill-rule="evenodd" fill="#c2c2c2" stroke="#555" stroke-width=".7"/>
<path d="M500.5 691.5A8.8 7.4 0 0 1 517 690" fill="none" stroke="#f0f0f0" stroke-width="1.6"/>
<path d="M501.5 698.5A8.6 7 0 0 0 517.5 698" fill="none" stroke="#8e8e8e" stroke-width="1.4"/>
<path d="M509.2 701.6C514.3 701.4 518.9 703.4 523.5 705.3C528.1 707.2 532.2 709.8 536.6 712.9C541 716 545.9 720 549.8 723.9C553.6 727.8 557 731.6 559.7 736C562.4 740.4 564.3 745.3 566 750C567.7 754.7 569.2 760 569.8 764.4C570.4 768.8 570 771.8 569.4 776.5C568.8 781.2 567.7 787.4 566.3 792.9C564.9 798.4 563.2 804.3 560.8 809.4C558.4 814.5 555.7 819.3 552 823.7C548.3 828.1 543.5 832.5 538.8 835.8C534 839.1 529 841.8 523.5 843.5C518 845.2 511.9 846.2 505.9 845.8C499.8 845.4 492.7 843.5 487.2 841.3C481.7 839.1 477.1 836.4 472.9 832.5C468.7 828.6 465.1 823.5 462 818.2C458.9 812.9 456.3 806.6 454.3 800.6C452.3 794.6 450.9 788.2 450 782C449.1 775.8 448.2 769.1 448.6 763.5C449 757.9 450.9 752.5 452.6 748.1C454.3 743.7 456.2 741 458.7 737.1C461.2 733.2 464.2 728.7 467.5 725C470.8 721.3 474.2 718.2 478.4 715.1C482.6 712 487.6 708.6 492.7 706.4C497.8 704.1 504.1 701.8 509.2 701.6Z" fill="url(#t3egg)" stroke="#5a5a5a" stroke-width=".8"/>
<g clip-path="url(#t3clip)">
<path d="M509.2 701.6C511.6 702.2 518.9 703.4 523.5 705.3C528.1 707.2 532.2 709.8 536.6 712.9C541 716 545.9 720 549.8 723.9C553.6 727.8 557 731.6 559.7 736C562.4 740.4 564.3 745.3 566 750C567.7 754.7 569.2 760 569.8 764.4C570.4 768.8 569.5 774.5 569.4 776.5" fill="none" stroke="#777" stroke-width="5" opacity=".7"/>
<path d="M444 783L452 778L462 769.9L469 765L476.2 763.3L482 765L487.2 769.9L492 778L497.1 787.5L502.5 796L508.1 802.8L515 807.5L523.5 810.5L531 812L538.8 812.2L547 810.5L554.2 807.2L564.1 799.5L574 790L575 850L440 850Z" fill="url(#t3lat)"/>
<path d="M467.9 776.5Q478.4 784.3 487.9 775.3Q477.4 767.5 467.9 776.5Z" fill="#fff" stroke="#4a4a4a" stroke-width=".6"/>
<path d="M467.9 776.5Q477.9 784.3 487.9 775.3" fill="none" stroke="#555" stroke-width="1.3"/>
<path d="M454.3 787Q465.8 795.2 476.3 785.8Q464.8 777.6 454.3 787Z" fill="#fff" stroke="#4a4a4a" stroke-width=".6"/>
<path d="M454.3 787Q465.3 795.2 476.3 785.8" fill="none" stroke="#555" stroke-width="1.3"/>
<path d="M483.4 788.1Q490 793.9 495.4 786.9Q488.8 781.1 483.4 788.1Z" fill="#fff" stroke="#4a4a4a" stroke-width=".6"/>
<path d="M483.4 788.1Q489.4 793.9 495.4 786.9" fill="none" stroke="#555" stroke-width="1.3"/>
<path d="M451 796.8Q456.3 802.1 460 795.6Q454.7 790.3 451 796.8Z" fill="#fff" stroke="#4a4a4a" stroke-width=".6"/>
<path d="M451 796.8Q455.5 802.2 460 795.6" fill="none" stroke="#555" stroke-width="1.3"/>
<path d="M468.6 797.4Q481.1 806 492.6 796.2Q480.1 787.6 468.6 797.4Z" fill="#fff" stroke="#4a4a4a" stroke-width=".6"/>
<path d="M468.6 797.4Q480.6 806 492.6 796.2" fill="none" stroke="#555" stroke-width="1.3"/>
<path d="M497.3 798.8Q501.4 801.4 504.5 797.6Q500.4 795 497.3 798.8Z" fill="#fff" stroke="#4a4a4a" stroke-width=".6"/>
<path d="M497.3 798.8Q500.9 801.4 504.5 797.6" fill="none" stroke="#555" stroke-width="1.3"/>
<path d="M456 807.8Q466.9 816 476.8 806.6Q465.9 798.4 456 807.8Z" fill="#fff" stroke="#4a4a4a" stroke-width=".6"/>
<path d="M456 807.8Q466.4 816 476.8 806.6" fill="none" stroke="#555" stroke-width="1.3"/>
<path d="M482.9 807.8Q495.4 816.4 506.9 806.6Q494.4 798 482.9 807.8Z" fill="#fff" stroke="#4a4a4a" stroke-width=".6"/>
<path d="M482.9 807.8Q494.9 816.4 506.9 806.6" fill="none" stroke="#555" stroke-width="1.3"/>
<path d="M468.6 817.7Q480.6 825.9 491.6 816.5Q479.6 808.3 468.6 817.7Z" fill="#fff" stroke="#4a4a4a" stroke-width=".6"/>
<path d="M468.6 817.7Q480.1 825.9 491.6 816.5" fill="none" stroke="#555" stroke-width="1.3"/>
<path d="M497.2 818.2Q509.6 826.4 521.2 817Q508.8 808.8 497.2 818.2Z" fill="#fff" stroke="#4a4a4a" stroke-width=".6"/>
<path d="M497.2 818.2Q509.2 826.4 521.2 817" fill="none" stroke="#555" stroke-width="1.3"/>
<path d="M526.2 819.2Q537.6 825.4 548.2 818Q536.8 811.8 526.2 819.2Z" fill="#fff" stroke="#4a4a4a" stroke-width=".6"/>
<path d="M526.2 819.2Q537.2 825.4 548.2 818" fill="none" stroke="#555" stroke-width="1.3"/>
<path d="M483.4 828.1Q495.3 835.9 506.4 826.9Q494.5 819.1 483.4 828.1Z" fill="#fff" stroke="#4a4a4a" stroke-width=".6"/>
<path d="M483.4 828.1Q494.9 835.9 506.4 826.9" fill="none" stroke="#555" stroke-width="1.3"/>
<path d="M512 828.1Q523.9 835.5 535 826.9Q523.1 819.5 512 828.1Z" fill="#fff" stroke="#4a4a4a" stroke-width=".6"/>
<path d="M512 828.1Q523.5 835.5 535 826.9" fill="none" stroke="#555" stroke-width="1.3"/>
<path d="M497.7 837.5Q509.6 844.1 520.7 836.3Q508.8 829.7 497.7 837.5Z" fill="#fff" stroke="#4a4a4a" stroke-width=".6"/>
<path d="M497.7 837.5Q509.2 844.1 520.7 836.3" fill="none" stroke="#555" stroke-width="1.3"/>
<ellipse cx="472.9" cy="825.9" rx="5.5" ry="2.5" transform="rotate(35 472.9 825.9)" fill="#777" stroke="#444" stroke-width=".5"/>
<ellipse cx="485" cy="836.3" rx="6.5" ry="2.6" transform="rotate(25 485 836.3)" fill="#777" stroke="#444" stroke-width=".5"/>
<ellipse cx="546.5" cy="825.3" rx="5" ry="2.4" transform="rotate(-35 546.5 825.3)" fill="#fff" stroke="#444" stroke-width=".5"/>
<ellipse cx="534.4" cy="835.8" rx="6.5" ry="2.4" transform="rotate(-25 534.4 835.8)" fill="#fff" stroke="#444" stroke-width=".5"/>
<ellipse cx="457" cy="809" rx="4" ry="2" transform="rotate(60 457 809)" fill="#777" stroke="#444" stroke-width=".5"/>
<ellipse cx="554" cy="812.5" rx="4" ry="1.6" transform="rotate(-45 554 812.5)" fill="#eee" stroke="#444" stroke-width=".5"/>
<path d="M566.3 792.9C565.4 795.6 563.2 804.3 560.8 809.4C558.4 814.5 555.7 819.3 552 823.7C548.3 828.1 543.5 832.5 538.8 835.8C534 839.1 529 841.8 523.5 843.5C518 845.2 511.9 846.2 505.9 845.8C499.8 845.4 490.3 842 487.2 841.3" fill="none" stroke="#333" stroke-width="7" opacity=".55"/>
<path d="M444 750C445.7 748.8 451.1 744.6 454.3 742.6C457.5 740.6 459.9 739.2 463 738C466.1 736.8 469.9 735.9 472.9 735.5C475.9 735.1 478.2 735.2 481 735.5C483.8 735.8 486.6 736 489.4 737.1C492.2 738.2 495.2 740.2 498 742C500.8 743.8 503.6 746 505.9 748.1C508.1 750.2 509.7 752.3 511.5 754.5C513.3 756.7 515.1 758.9 516.9 761.3C518.6 763.7 520.2 766.6 522 769C523.8 771.4 525.4 773.1 527.8 775.5C530.2 777.9 533.3 782.1 536.6 783.5C539.9 784.9 543.9 784.8 547.6 783.6C551.3 782.4 555.5 779 558.6 776.5C561.7 774 563.6 771.9 566.3 768.8C569 765.7 573.5 759.8 575 758L574 790L564.1 799.5L554.2 807.2L547 810.5L538.8 812.2L531 812L523.5 810.5L515 807.5L508.1 802.8L502.5 796L497.1 787.5L492 778L487.2 769.9L482 765L476.2 763.3L469 765L462 769.9L452 778L444 783Z" fill="#8c8c8c"/>
<path d="M444 750C445.7 748.8 451.1 744.6 454.3 742.6C457.5 740.6 459.9 739.2 463 738C466.1 736.8 469.9 735.9 472.9 735.5C475.9 735.1 478.2 735.2 481 735.5C483.8 735.8 486.6 736 489.4 737.1C492.2 738.2 495.2 740.2 498 742C500.8 743.8 503.6 746 505.9 748.1C508.1 750.2 509.7 752.3 511.5 754.5C513.3 756.7 515.1 758.9 516.9 761.3C518.6 763.7 520.2 766.6 522 769C523.8 771.4 525.4 773.1 527.8 775.5C530.2 777.9 533.3 782.1 536.6 783.5C539.9 784.9 543.9 784.8 547.6 783.6C551.3 782.4 555.5 779 558.6 776.5C561.7 774 563.6 771.9 566.3 768.8C569 765.7 573.5 759.8 575 758" fill="none" stroke="#444" stroke-width="2.8"/>
<path d="M444 750C445.7 748.8 451.1 744.6 454.3 742.6C457.5 740.6 459.9 739.2 463 738C466.1 736.8 469.9 735.9 472.9 735.5C475.9 735.1 478.2 735.2 481 735.5C483.8 735.8 486.6 736 489.4 737.1C492.2 738.2 495.2 740.2 498 742C500.8 743.8 503.6 746 505.9 748.1C508.1 750.2 509.7 752.3 511.5 754.5C513.3 756.7 515.1 758.9 516.9 761.3C518.6 763.7 520.2 766.6 522 769C523.8 771.4 525.4 773.1 527.8 775.5C530.2 777.9 533.3 782.1 536.6 783.5C539.9 784.9 543.9 784.8 547.6 783.6C551.3 782.4 555.5 779 558.6 776.5C561.7 774 563.6 771.9 566.3 768.8C569 765.7 573.5 759.8 575 758" fill="none" stroke="#efefef" stroke-width="1.6"/>
<path d="M444 783C445.3 782.2 449 780.2 452 778C455 775.8 459.2 772.1 462 769.9C464.8 767.7 466.6 766.1 469 765C471.4 763.9 474 763.3 476.2 763.3C478.4 763.3 480.2 763.9 482 765C483.8 766.1 485.5 767.7 487.2 769.9C488.9 772.1 490.4 775.1 492 778C493.6 780.9 495.4 784.5 497.1 787.5C498.9 790.5 500.7 793.5 502.5 796C504.3 798.5 506 800.9 508.1 802.8C510.2 804.7 512.4 806.2 515 807.5C517.6 808.8 520.8 809.8 523.5 810.5C526.2 811.2 528.5 811.7 531 812C533.5 812.3 536.1 812.5 538.8 812.2C541.5 812 544.4 811.3 547 810.5C549.6 809.7 551.4 809 554.2 807.2C557.1 805.4 560.8 802.4 564.1 799.5C567.4 796.6 572.4 791.6 574 790" fill="none" stroke="#444" stroke-width="3.8"/>
<path d="M444 783C445.3 782.2 449 780.2 452 778C455 775.8 459.2 772.1 462 769.9C464.8 767.7 466.6 766.1 469 765C471.4 763.9 474 763.3 476.2 763.3C478.4 763.3 480.2 763.9 482 765C483.8 766.1 485.5 767.7 487.2 769.9C488.9 772.1 490.4 775.1 492 778C493.6 780.9 495.4 784.5 497.1 787.5C498.9 790.5 500.7 793.5 502.5 796C504.3 798.5 506 800.9 508.1 802.8C510.2 804.7 512.4 806.2 515 807.5C517.6 808.8 520.8 809.8 523.5 810.5C526.2 811.2 528.5 811.7 531 812C533.5 812.3 536.1 812.5 538.8 812.2C541.5 812 544.4 811.3 547 810.5C549.6 809.7 551.4 809 554.2 807.2C557.1 805.4 560.8 802.4 564.1 799.5C567.4 796.6 572.4 791.6 574 790" fill="none" stroke="#efefef" stroke-width="2.6"/>
<path d="M444 766C445.5 765 450 762.2 453 760C456 757.8 459.2 754.8 462 753C464.8 751.2 467.3 750.2 470 749.5C472.7 748.8 475.3 748.6 478 749C480.7 749.4 483.6 750.4 486 752C488.4 753.6 490.4 756 492.5 758.5C494.6 761 496.6 764.1 498.5 767C500.4 769.9 502.1 773.1 504 776C505.9 778.9 507.8 781.9 510 784.5C512.2 787.1 514.5 789.6 517 791.5C519.5 793.4 522 794.8 525 796C528 797.2 531.5 798.2 535 798.5C538.5 798.8 542.5 798.8 546 798C549.5 797.2 552.8 795.5 556 793.5C559.2 791.5 561.8 789.1 565 786C568.2 782.9 573.3 776.8 575 775" fill="none" stroke="#444" stroke-width="3"/>
<path d="M444 766C445.5 765 450 762.2 453 760C456 757.8 459.2 754.8 462 753C464.8 751.2 467.3 750.2 470 749.5C472.7 748.8 475.3 748.6 478 749C480.7 749.4 483.6 750.4 486 752C488.4 753.6 490.4 756 492.5 758.5C494.6 761 496.6 764.1 498.5 767C500.4 769.9 502.1 773.1 504 776C505.9 778.9 507.8 781.9 510 784.5C512.2 787.1 514.5 789.6 517 791.5C519.5 793.4 522 794.8 525 796C528 797.2 531.5 798.2 535 798.5C538.5 798.8 542.5 798.8 546 798C549.5 797.2 552.8 795.5 556 793.5C559.2 791.5 561.8 789.1 565 786C568.2 782.9 573.3 776.8 575 775" fill="none" stroke="#e9e9e9" stroke-width="1.8"/>
<circle cx="449" cy="754" r="4.1" fill="url(#tBead)" stroke="#5a5a5a" stroke-width=".4"/>
<circle cx="456" cy="748.1" r="4.1" fill="url(#tBead)" stroke="#5a5a5a" stroke-width=".4"/>
<circle cx="464.1" cy="744.1" r="4.1" fill="url(#tBead)" stroke="#5a5a5a" stroke-width=".4"/>
<circle cx="472.9" cy="742.3" r="4.1" fill="url(#tBead)" stroke="#5a5a5a" stroke-width=".4"/>
<circle cx="481.9" cy="743.1" r="4.1" fill="url(#tBead)" stroke="#5a5a5a" stroke-width=".4"/>
<circle cx="490.2" cy="746.7" r="4.1" fill="url(#tBead)" stroke="#5a5a5a" stroke-width=".4"/>
<circle cx="497.2" cy="752.5" r="4.1" fill="url(#tBead)" stroke="#5a5a5a" stroke-width=".4"/>
<circle cx="503.1" cy="759.4" r="4.1" fill="url(#tBead)" stroke="#5a5a5a" stroke-width=".4"/>
<circle cx="508.4" cy="766.9" r="4.1" fill="url(#tBead)" stroke="#5a5a5a" stroke-width=".4"/>
<circle cx="513.4" cy="774.5" r="4.1" fill="url(#tBead)" stroke="#5a5a5a" stroke-width=".4"/>
<circle cx="519.2" cy="781.5" r="4.1" fill="url(#tBead)" stroke="#5a5a5a" stroke-width=".4"/>
<circle cx="526.3" cy="787.3" r="4.1" fill="url(#tBead)" stroke="#5a5a5a" stroke-width=".4"/>
<circle cx="534.7" cy="790.7" r="4.1" fill="url(#tBead)" stroke="#5a5a5a" stroke-width=".4"/>
<circle cx="543.7" cy="791.2" r="4.1" fill="url(#tBead)" stroke="#5a5a5a" stroke-width=".4"/>
<circle cx="552.3" cy="788.5" r="4.1" fill="url(#tBead)" stroke="#5a5a5a" stroke-width=".4"/>
<circle cx="559.8" cy="783.6" r="4.1" fill="url(#tBead)" stroke="#5a5a5a" stroke-width=".4"/>
<circle cx="566.4" cy="777.2" r="4.1" fill="url(#tBead)" stroke="#5a5a5a" stroke-width=".4"/>
<circle cx="572" cy="770" r="4.1" fill="url(#tBead)" stroke="#5a5a5a" stroke-width=".4"/>
<circle cx="447" cy="773" r="4.1" fill="url(#tBead)" stroke="#5a5a5a" stroke-width=".4"/>
<circle cx="454.3" cy="767.3" r="4.1" fill="url(#tBead)" stroke="#5a5a5a" stroke-width=".4"/>
<circle cx="461.6" cy="761.6" r="4.1" fill="url(#tBead)" stroke="#5a5a5a" stroke-width=".4"/>
<circle cx="469.7" cy="757.4" r="4.1" fill="url(#tBead)" stroke="#5a5a5a" stroke-width=".4"/>
<circle cx="478.7" cy="756.8" r="4.1" fill="url(#tBead)" stroke="#5a5a5a" stroke-width=".4"/>
<circle cx="486.7" cy="761.3" r="4.1" fill="url(#tBead)" stroke="#5a5a5a" stroke-width=".4"/>
<circle cx="492.2" cy="768.6" r="4.1" fill="url(#tBead)" stroke="#5a5a5a" stroke-width=".4"/>
<circle cx="496.8" cy="776.7" r="4.1" fill="url(#tBead)" stroke="#5a5a5a" stroke-width=".4"/>
<circle cx="501.7" cy="784.5" r="4.1" fill="url(#tBead)" stroke="#5a5a5a" stroke-width=".4"/>
<circle cx="507.3" cy="791.9" r="4.1" fill="url(#tBead)" stroke="#5a5a5a" stroke-width=".4"/>
<circle cx="514" cy="798.3" r="4.1" fill="url(#tBead)" stroke="#5a5a5a" stroke-width=".4"/>
<circle cx="521.9" cy="802.8" r="4.1" fill="url(#tBead)" stroke="#5a5a5a" stroke-width=".4"/>
<circle cx="530.9" cy="805" r="4.1" fill="url(#tBead)" stroke="#5a5a5a" stroke-width=".4"/>
<circle cx="540.1" cy="805.2" r="4.1" fill="url(#tBead)" stroke="#5a5a5a" stroke-width=".4"/>
<circle cx="549" cy="803.4" r="4.1" fill="url(#tBead)" stroke="#5a5a5a" stroke-width=".4"/>
<circle cx="557.2" cy="799.2" r="4.1" fill="url(#tBead)" stroke="#5a5a5a" stroke-width=".4"/>
<circle cx="564.5" cy="793.5" r="4.1" fill="url(#tBead)" stroke="#5a5a5a" stroke-width=".4"/>
<circle cx="571" cy="787" r="4.1" fill="url(#tBead)" stroke="#5a5a5a" stroke-width=".4"/>
<path d="M509.2 702V846M486.5 708Q484 722 485 735M535.5 712Q538 740 537 783M450 757Q480 730 512 748Q540 762 570 762M452 790H500M460 812H560" fill="none" stroke="#8a8a8a" stroke-width=".4"/>
</g>
<path d="M469.8 727.8Q486 725 502 728Q516 731.5 530 741.5" fill="none" stroke="#555" stroke-width="2.6" stroke-linecap="round"/><path d="M469.8 727.8Q486 725 502 728Q516 731.5 530 741.5" fill="none" stroke="#ececec" stroke-width="1.5" stroke-linecap="round"/>
<path d="M514 731.5Q528 732 534 724Q538 716 534 711.5Q529.5 708.5 526 711.5Q524 715 527 717Q530 717.5 530 715M520 732.5Q536 734 545 727" fill="none" stroke="#555" stroke-width="2.6" stroke-linecap="round"/><path d="M514 731.5Q528 732 534 724Q538 716 534 711.5Q529.5 708.5 526 711.5Q524 715 527 717Q530 717.5 530 715M520 732.5Q536 734 545 727" fill="none" stroke="#d6d6d6" stroke-width="1.5" stroke-linecap="round"/>
<g transform="translate(502.6 705.6) rotate(40)"><ellipse rx="7.4" ry="6.4" fill="url(#tPetM)" stroke="#555" stroke-width=".5"/><ellipse rx="7.4" ry="6.4" fill="url(#mesh2)" opacity="0.5"/></g>
<g transform="translate(517.1 707.3) rotate(-35)"><ellipse rx="7.2" ry="6.2" fill="url(#tPetM)" stroke="#555" stroke-width=".5"/><ellipse rx="7.2" ry="6.2" fill="url(#mesh2)" opacity="0.5"/></g>
<g transform="translate(499.6 717.8) rotate(-30)"><ellipse rx="7.4" ry="6.2" fill="url(#tPetM)" stroke="#555" stroke-width=".5"/><ellipse rx="7.4" ry="6.2" fill="url(#mesh2)" opacity="0.5"/></g>
<g transform="translate(515.8 719.6) rotate(35)"><ellipse rx="7.2" ry="6.2" fill="url(#tPetM)" stroke="#555" stroke-width=".5"/><ellipse rx="7.2" ry="6.2" fill="url(#mesh2)" opacity="0.5"/></g>
<circle cx="508.6" cy="713.6" r="3.3" fill="url(#tBead)" stroke="#555" stroke-width=".4"/>
<g transform="translate(545.6 737.5) rotate(8)"><ellipse rx="10" ry="12" fill="url(#tPetL)" stroke="#555" stroke-width=".5"/><ellipse rx="10" ry="12" fill="url(#mesh2)" opacity="0.55"/></g>
<g transform="translate(560 751.2) rotate(-12)"><ellipse rx="11.5" ry="10" fill="url(#tPetL)" stroke="#555" stroke-width=".5"/><ellipse rx="11.5" ry="10" fill="url(#mesh2)" opacity="0.55"/></g>
<g transform="translate(531.3 755.5) rotate(-15)"><ellipse rx="11.5" ry="10" fill="url(#tPetL)" stroke="#555" stroke-width=".5"/><ellipse rx="11.5" ry="10" fill="url(#mesh2)" opacity="0.55"/></g>
<g transform="translate(551 767) rotate(-25)"><ellipse rx="10.5" ry="12" fill="url(#tPetL)" stroke="#555" stroke-width=".5"/><ellipse rx="10.5" ry="12" fill="url(#mesh2)" opacity="0.55"/></g>
<circle cx="544.9" cy="752.5" r="4.9" fill="url(#tBead)" stroke="#555" stroke-width=".4"/>
</svg>

<!-- Stone map -->
<div class="t b" id="h-map" style="left:54px;top:884.3px;font-size:19px;letter-spacing:.2px;">Stone Map</div>
<div class="hr" style="left:54px;top:910.3px;width:1167px;height:1.8px;background:#222;"></div>
<div class="frame" id="mapframe" style="left:84px;top:920px;width:1107px;height:376px;border-color:#e6e6e6;"></div>
<svg class="abs" id="stonemap" style="left:0;top:0" width="1275" height="1650" viewBox="0 0 1275 1650">
<g transform="translate(112.0 1036.3)"><circle r="20.6" class="nv"/><text class="n1" y="4.3">1.76</text></g>
<g transform="translate(168.7 1083.5)"><circle r="20.6" class="nv"/><text class="n1" y="4.3">1.76</text></g>
<g transform="translate(207.5 1067.1)"><circle r="20.6" class="nv"/><text class="n1" y="4.3">1.76</text></g>
<g transform="translate(236.6 1118.1)"><circle r="20.6" class="nv"/><text class="n1" y="4.3">1.76</text></g>
<g transform="translate(274.5 1102.8)"><circle r="20.6" class="nv"/><text class="n1" y="4.3">1.76</text></g>
<g transform="translate(311.9 1146.2)"><circle r="20.6" class="nv"/><text class="n1" y="4.3">1.76</text></g>
<g transform="translate(351.3 1131.9)"><circle r="20.6" class="nv"/><text class="n1" y="4.3">1.76</text></g>
<g transform="translate(391.7 1166.5)"><circle r="20.6" class="nv"/><text class="n1" y="4.3">1.76</text></g>
<g transform="translate(431.1 1152.6)"><circle r="20.6" class="nv"/><text class="n1" y="4.3">1.76</text></g>
<g transform="translate(466.7 1180.9)"><circle r="20.6" class="nv"/><text class="n1" y="4.3">1.76</text></g>
<g transform="translate(506.0 1170.3)"><circle r="20.6" class="nv"/><text class="n1" y="4.3">1.76</text></g>
<g transform="translate(544.2 1182.7)"><circle r="20.6" class="nv"/><text class="n1" y="4.3">1.76</text></g>
<g transform="translate(585.3 1188.0)"><circle r="20.6" class="nv"/><text class="n1" y="4.3">1.76</text></g>
<g transform="translate(617.8 1163.4)"><circle r="20.6" class="nv"/><text class="n1" y="4.3">1.76</text></g>
<g transform="translate(658.2 1163.4)"><circle r="20.6" class="nv"/><text class="n1" y="4.3">1.76</text></g>
<g transform="translate(690.7 1188.0)"><circle r="20.6" class="nv"/><text class="n1" y="4.3">1.76</text></g>
<g transform="translate(731.8 1182.7)"><circle r="20.6" class="nv"/><text class="n1" y="4.3">1.76</text></g>
<g transform="translate(770.0 1170.3)"><circle r="20.6" class="nv"/><text class="n1" y="4.3">1.76</text></g>
<g transform="translate(809.3 1180.9)"><circle r="20.6" class="nv"/><text class="n1" y="4.3">1.76</text></g>
<g transform="translate(844.9 1152.6)"><circle r="20.6" class="nv"/><text class="n1" y="4.3">1.76</text></g>
<g transform="translate(884.3 1166.5)"><circle r="20.6" class="nv"/><text class="n1" y="4.3">1.76</text></g>
<g transform="translate(924.7 1131.9)"><circle r="20.6" class="nv"/><text class="n1" y="4.3">1.76</text></g>
<g transform="translate(964.1 1146.2)"><circle r="20.6" class="nv"/><text class="n1" y="4.3">1.76</text></g>
<g transform="translate(1001.5 1102.8)"><circle r="20.6" class="nv"/><text class="n1" y="4.3">1.76</text></g>
<g transform="translate(1039.4 1118.1)"><circle r="20.6" class="nv"/><text class="n1" y="4.3">1.76</text></g>
<g transform="translate(1068.5 1067.1)"><circle r="20.6" class="nv"/><text class="n1" y="4.3">1.76</text></g>
<g transform="translate(1107.3 1083.5)"><circle r="20.6" class="nv"/><text class="n1" y="4.3">1.76</text></g>
<g transform="translate(1164.0 1036.3)"><circle r="20.6" class="nv"/><text class="n1" y="4.3">1.76</text></g>
<g transform="translate(149.8 1026.6)"><circle r="17" class="tl"/><text class="n2" x="-1.2" y="2">1.47</text></g>
<g transform="translate(1126.2 1026.6)"><circle r="17" class="tl"/><text class="n2" x="-1.2" y="2">1.47</text></g>
</svg>

<!-- notes -->
<div class="t b" id="h-notes" style="left:54px;top:1299.8px;font-size:19px;letter-spacing:.2px;">Additional Notes</div>
<div class="hr" style="left:54px;top:1322px;width:1167px;height:2px;background:#333;"></div>
<div class="t" id="vol" style="left:68.5px;top:1333.4px;font-size:17.5px;color:#111;letter-spacing:.1px;">Volume - 497</div>

<div class="t" id="cust" style="left:72.5px;top:1424.3px;font-size:16.8px;color:#4a4a4a;letter-spacing:.13px;">Customer Approval :</div>
<div class="t" id="datel" style="left:683.5px;top:1425px;font-size:16px;color:#4a4a4a;">Date :</div>
<div class="t" id="date2" style="left:739.5px;top:1423px;font-size:19.5px;color:#111;letter-spacing:.25px;">13/10/25</div>
<div class="t" id="pricel" style="left:993.5px;top:1425px;font-size:16px;color:#4a4a4a;">Price :</div>
<div class="hr" style="left:73px;top:1449px;width:966px;height:2px;background:#5a5a5a;"></div>
<div class="abs" id="pricebox" style="left:1044.5px;top:1420px;width:154px;height:27px;border:1.5px solid #111;box-sizing:content-box;"></div>
</body>
</html>
